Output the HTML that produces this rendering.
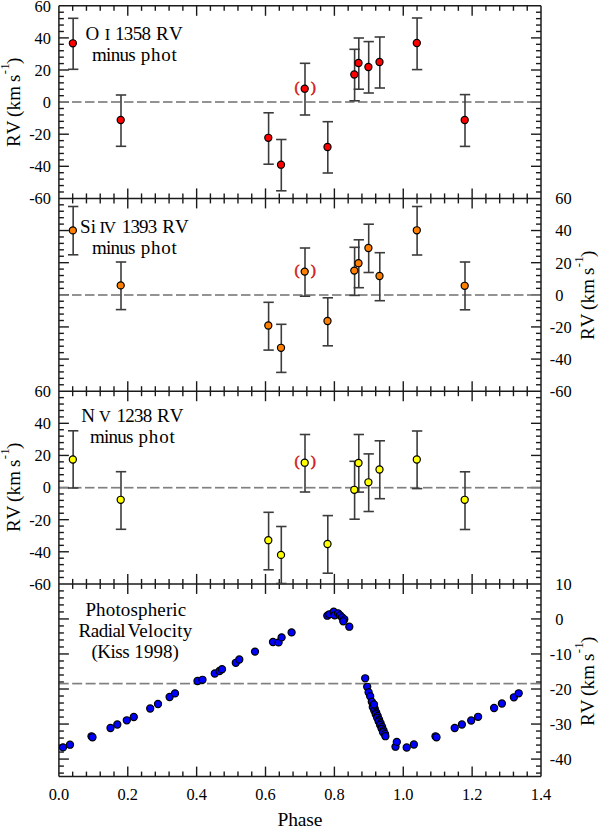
<!DOCTYPE html>
<html><head><meta charset="utf-8"><style>
html,body{margin:0;padding:0;background:#fff;overflow:hidden;width:600px;height:826px;}
svg{display:block;font-family:"Liberation Serif",serif;}
</style></head><body>
<svg width="600" height="826" viewBox="0 0 600 826">
<rect width="600" height="826" fill="#fff"/>
<line x1="72.67" y1="5.80" x2="72.67" y2="10.80" stroke="#1a1a1a" stroke-width="1.4" />
<line x1="72.67" y1="198.40" x2="72.67" y2="193.40" stroke="#1a1a1a" stroke-width="1.4" />
<line x1="86.45" y1="5.80" x2="86.45" y2="10.80" stroke="#1a1a1a" stroke-width="1.4" />
<line x1="86.45" y1="198.40" x2="86.45" y2="193.40" stroke="#1a1a1a" stroke-width="1.4" />
<line x1="100.22" y1="5.80" x2="100.22" y2="10.80" stroke="#1a1a1a" stroke-width="1.4" />
<line x1="100.22" y1="198.40" x2="100.22" y2="193.40" stroke="#1a1a1a" stroke-width="1.4" />
<line x1="114.00" y1="5.80" x2="114.00" y2="10.80" stroke="#1a1a1a" stroke-width="1.4" />
<line x1="114.00" y1="198.40" x2="114.00" y2="193.40" stroke="#1a1a1a" stroke-width="1.4" />
<line x1="127.77" y1="5.80" x2="127.77" y2="15.80" stroke="#1a1a1a" stroke-width="1.4" />
<line x1="127.77" y1="198.40" x2="127.77" y2="188.40" stroke="#1a1a1a" stroke-width="1.4" />
<line x1="141.55" y1="5.80" x2="141.55" y2="10.80" stroke="#1a1a1a" stroke-width="1.4" />
<line x1="141.55" y1="198.40" x2="141.55" y2="193.40" stroke="#1a1a1a" stroke-width="1.4" />
<line x1="155.32" y1="5.80" x2="155.32" y2="10.80" stroke="#1a1a1a" stroke-width="1.4" />
<line x1="155.32" y1="198.40" x2="155.32" y2="193.40" stroke="#1a1a1a" stroke-width="1.4" />
<line x1="169.09" y1="5.80" x2="169.09" y2="10.80" stroke="#1a1a1a" stroke-width="1.4" />
<line x1="169.09" y1="198.40" x2="169.09" y2="193.40" stroke="#1a1a1a" stroke-width="1.4" />
<line x1="182.87" y1="5.80" x2="182.87" y2="10.80" stroke="#1a1a1a" stroke-width="1.4" />
<line x1="182.87" y1="198.40" x2="182.87" y2="193.40" stroke="#1a1a1a" stroke-width="1.4" />
<line x1="196.64" y1="5.80" x2="196.64" y2="15.80" stroke="#1a1a1a" stroke-width="1.4" />
<line x1="196.64" y1="198.40" x2="196.64" y2="188.40" stroke="#1a1a1a" stroke-width="1.4" />
<line x1="210.42" y1="5.80" x2="210.42" y2="10.80" stroke="#1a1a1a" stroke-width="1.4" />
<line x1="210.42" y1="198.40" x2="210.42" y2="193.40" stroke="#1a1a1a" stroke-width="1.4" />
<line x1="224.19" y1="5.80" x2="224.19" y2="10.80" stroke="#1a1a1a" stroke-width="1.4" />
<line x1="224.19" y1="198.40" x2="224.19" y2="193.40" stroke="#1a1a1a" stroke-width="1.4" />
<line x1="237.97" y1="5.80" x2="237.97" y2="10.80" stroke="#1a1a1a" stroke-width="1.4" />
<line x1="237.97" y1="198.40" x2="237.97" y2="193.40" stroke="#1a1a1a" stroke-width="1.4" />
<line x1="251.74" y1="5.80" x2="251.74" y2="10.80" stroke="#1a1a1a" stroke-width="1.4" />
<line x1="251.74" y1="198.40" x2="251.74" y2="193.40" stroke="#1a1a1a" stroke-width="1.4" />
<line x1="265.51" y1="5.80" x2="265.51" y2="15.80" stroke="#1a1a1a" stroke-width="1.4" />
<line x1="265.51" y1="198.40" x2="265.51" y2="188.40" stroke="#1a1a1a" stroke-width="1.4" />
<line x1="279.29" y1="5.80" x2="279.29" y2="10.80" stroke="#1a1a1a" stroke-width="1.4" />
<line x1="279.29" y1="198.40" x2="279.29" y2="193.40" stroke="#1a1a1a" stroke-width="1.4" />
<line x1="293.06" y1="5.80" x2="293.06" y2="10.80" stroke="#1a1a1a" stroke-width="1.4" />
<line x1="293.06" y1="198.40" x2="293.06" y2="193.40" stroke="#1a1a1a" stroke-width="1.4" />
<line x1="306.84" y1="5.80" x2="306.84" y2="10.80" stroke="#1a1a1a" stroke-width="1.4" />
<line x1="306.84" y1="198.40" x2="306.84" y2="193.40" stroke="#1a1a1a" stroke-width="1.4" />
<line x1="320.61" y1="5.80" x2="320.61" y2="10.80" stroke="#1a1a1a" stroke-width="1.4" />
<line x1="320.61" y1="198.40" x2="320.61" y2="193.40" stroke="#1a1a1a" stroke-width="1.4" />
<line x1="334.39" y1="5.80" x2="334.39" y2="15.80" stroke="#1a1a1a" stroke-width="1.4" />
<line x1="334.39" y1="198.40" x2="334.39" y2="188.40" stroke="#1a1a1a" stroke-width="1.4" />
<line x1="348.16" y1="5.80" x2="348.16" y2="10.80" stroke="#1a1a1a" stroke-width="1.4" />
<line x1="348.16" y1="198.40" x2="348.16" y2="193.40" stroke="#1a1a1a" stroke-width="1.4" />
<line x1="361.93" y1="5.80" x2="361.93" y2="10.80" stroke="#1a1a1a" stroke-width="1.4" />
<line x1="361.93" y1="198.40" x2="361.93" y2="193.40" stroke="#1a1a1a" stroke-width="1.4" />
<line x1="375.71" y1="5.80" x2="375.71" y2="10.80" stroke="#1a1a1a" stroke-width="1.4" />
<line x1="375.71" y1="198.40" x2="375.71" y2="193.40" stroke="#1a1a1a" stroke-width="1.4" />
<line x1="389.48" y1="5.80" x2="389.48" y2="10.80" stroke="#1a1a1a" stroke-width="1.4" />
<line x1="389.48" y1="198.40" x2="389.48" y2="193.40" stroke="#1a1a1a" stroke-width="1.4" />
<line x1="403.26" y1="5.80" x2="403.26" y2="15.80" stroke="#1a1a1a" stroke-width="1.4" />
<line x1="403.26" y1="198.40" x2="403.26" y2="188.40" stroke="#1a1a1a" stroke-width="1.4" />
<line x1="417.03" y1="5.80" x2="417.03" y2="10.80" stroke="#1a1a1a" stroke-width="1.4" />
<line x1="417.03" y1="198.40" x2="417.03" y2="193.40" stroke="#1a1a1a" stroke-width="1.4" />
<line x1="430.81" y1="5.80" x2="430.81" y2="10.80" stroke="#1a1a1a" stroke-width="1.4" />
<line x1="430.81" y1="198.40" x2="430.81" y2="193.40" stroke="#1a1a1a" stroke-width="1.4" />
<line x1="444.58" y1="5.80" x2="444.58" y2="10.80" stroke="#1a1a1a" stroke-width="1.4" />
<line x1="444.58" y1="198.40" x2="444.58" y2="193.40" stroke="#1a1a1a" stroke-width="1.4" />
<line x1="458.35" y1="5.80" x2="458.35" y2="10.80" stroke="#1a1a1a" stroke-width="1.4" />
<line x1="458.35" y1="198.40" x2="458.35" y2="193.40" stroke="#1a1a1a" stroke-width="1.4" />
<line x1="472.13" y1="5.80" x2="472.13" y2="15.80" stroke="#1a1a1a" stroke-width="1.4" />
<line x1="472.13" y1="198.40" x2="472.13" y2="188.40" stroke="#1a1a1a" stroke-width="1.4" />
<line x1="485.90" y1="5.80" x2="485.90" y2="10.80" stroke="#1a1a1a" stroke-width="1.4" />
<line x1="485.90" y1="198.40" x2="485.90" y2="193.40" stroke="#1a1a1a" stroke-width="1.4" />
<line x1="499.68" y1="5.80" x2="499.68" y2="10.80" stroke="#1a1a1a" stroke-width="1.4" />
<line x1="499.68" y1="198.40" x2="499.68" y2="193.40" stroke="#1a1a1a" stroke-width="1.4" />
<line x1="513.45" y1="5.80" x2="513.45" y2="10.80" stroke="#1a1a1a" stroke-width="1.4" />
<line x1="513.45" y1="198.40" x2="513.45" y2="193.40" stroke="#1a1a1a" stroke-width="1.4" />
<line x1="527.23" y1="5.80" x2="527.23" y2="10.80" stroke="#1a1a1a" stroke-width="1.4" />
<line x1="527.23" y1="198.40" x2="527.23" y2="193.40" stroke="#1a1a1a" stroke-width="1.4" />
<line x1="58.90" y1="12.22" x2="63.90" y2="12.22" stroke="#1a1a1a" stroke-width="1.4" />
<line x1="541.00" y1="12.22" x2="536.00" y2="12.22" stroke="#1a1a1a" stroke-width="1.4" />
<line x1="58.90" y1="18.64" x2="63.90" y2="18.64" stroke="#1a1a1a" stroke-width="1.4" />
<line x1="541.00" y1="18.64" x2="536.00" y2="18.64" stroke="#1a1a1a" stroke-width="1.4" />
<line x1="58.90" y1="25.06" x2="63.90" y2="25.06" stroke="#1a1a1a" stroke-width="1.4" />
<line x1="541.00" y1="25.06" x2="536.00" y2="25.06" stroke="#1a1a1a" stroke-width="1.4" />
<line x1="58.90" y1="31.48" x2="63.90" y2="31.48" stroke="#1a1a1a" stroke-width="1.4" />
<line x1="541.00" y1="31.48" x2="536.00" y2="31.48" stroke="#1a1a1a" stroke-width="1.4" />
<line x1="58.90" y1="37.90" x2="68.90" y2="37.90" stroke="#1a1a1a" stroke-width="1.4" />
<line x1="541.00" y1="37.90" x2="531.00" y2="37.90" stroke="#1a1a1a" stroke-width="1.4" />
<line x1="58.90" y1="44.32" x2="63.90" y2="44.32" stroke="#1a1a1a" stroke-width="1.4" />
<line x1="541.00" y1="44.32" x2="536.00" y2="44.32" stroke="#1a1a1a" stroke-width="1.4" />
<line x1="58.90" y1="50.74" x2="63.90" y2="50.74" stroke="#1a1a1a" stroke-width="1.4" />
<line x1="541.00" y1="50.74" x2="536.00" y2="50.74" stroke="#1a1a1a" stroke-width="1.4" />
<line x1="58.90" y1="57.16" x2="63.90" y2="57.16" stroke="#1a1a1a" stroke-width="1.4" />
<line x1="541.00" y1="57.16" x2="536.00" y2="57.16" stroke="#1a1a1a" stroke-width="1.4" />
<line x1="58.90" y1="63.58" x2="63.90" y2="63.58" stroke="#1a1a1a" stroke-width="1.4" />
<line x1="541.00" y1="63.58" x2="536.00" y2="63.58" stroke="#1a1a1a" stroke-width="1.4" />
<line x1="58.90" y1="70.00" x2="68.90" y2="70.00" stroke="#1a1a1a" stroke-width="1.4" />
<line x1="541.00" y1="70.00" x2="531.00" y2="70.00" stroke="#1a1a1a" stroke-width="1.4" />
<line x1="58.90" y1="76.42" x2="63.90" y2="76.42" stroke="#1a1a1a" stroke-width="1.4" />
<line x1="541.00" y1="76.42" x2="536.00" y2="76.42" stroke="#1a1a1a" stroke-width="1.4" />
<line x1="58.90" y1="82.84" x2="63.90" y2="82.84" stroke="#1a1a1a" stroke-width="1.4" />
<line x1="541.00" y1="82.84" x2="536.00" y2="82.84" stroke="#1a1a1a" stroke-width="1.4" />
<line x1="58.90" y1="89.26" x2="63.90" y2="89.26" stroke="#1a1a1a" stroke-width="1.4" />
<line x1="541.00" y1="89.26" x2="536.00" y2="89.26" stroke="#1a1a1a" stroke-width="1.4" />
<line x1="58.90" y1="95.68" x2="63.90" y2="95.68" stroke="#1a1a1a" stroke-width="1.4" />
<line x1="541.00" y1="95.68" x2="536.00" y2="95.68" stroke="#1a1a1a" stroke-width="1.4" />
<line x1="58.90" y1="102.10" x2="68.90" y2="102.10" stroke="#1a1a1a" stroke-width="1.4" />
<line x1="541.00" y1="102.10" x2="531.00" y2="102.10" stroke="#1a1a1a" stroke-width="1.4" />
<line x1="58.90" y1="108.52" x2="63.90" y2="108.52" stroke="#1a1a1a" stroke-width="1.4" />
<line x1="541.00" y1="108.52" x2="536.00" y2="108.52" stroke="#1a1a1a" stroke-width="1.4" />
<line x1="58.90" y1="114.94" x2="63.90" y2="114.94" stroke="#1a1a1a" stroke-width="1.4" />
<line x1="541.00" y1="114.94" x2="536.00" y2="114.94" stroke="#1a1a1a" stroke-width="1.4" />
<line x1="58.90" y1="121.36" x2="63.90" y2="121.36" stroke="#1a1a1a" stroke-width="1.4" />
<line x1="541.00" y1="121.36" x2="536.00" y2="121.36" stroke="#1a1a1a" stroke-width="1.4" />
<line x1="58.90" y1="127.78" x2="63.90" y2="127.78" stroke="#1a1a1a" stroke-width="1.4" />
<line x1="541.00" y1="127.78" x2="536.00" y2="127.78" stroke="#1a1a1a" stroke-width="1.4" />
<line x1="58.90" y1="134.20" x2="68.90" y2="134.20" stroke="#1a1a1a" stroke-width="1.4" />
<line x1="541.00" y1="134.20" x2="531.00" y2="134.20" stroke="#1a1a1a" stroke-width="1.4" />
<line x1="58.90" y1="140.62" x2="63.90" y2="140.62" stroke="#1a1a1a" stroke-width="1.4" />
<line x1="541.00" y1="140.62" x2="536.00" y2="140.62" stroke="#1a1a1a" stroke-width="1.4" />
<line x1="58.90" y1="147.04" x2="63.90" y2="147.04" stroke="#1a1a1a" stroke-width="1.4" />
<line x1="541.00" y1="147.04" x2="536.00" y2="147.04" stroke="#1a1a1a" stroke-width="1.4" />
<line x1="58.90" y1="153.46" x2="63.90" y2="153.46" stroke="#1a1a1a" stroke-width="1.4" />
<line x1="541.00" y1="153.46" x2="536.00" y2="153.46" stroke="#1a1a1a" stroke-width="1.4" />
<line x1="58.90" y1="159.88" x2="63.90" y2="159.88" stroke="#1a1a1a" stroke-width="1.4" />
<line x1="541.00" y1="159.88" x2="536.00" y2="159.88" stroke="#1a1a1a" stroke-width="1.4" />
<line x1="58.90" y1="166.30" x2="68.90" y2="166.30" stroke="#1a1a1a" stroke-width="1.4" />
<line x1="541.00" y1="166.30" x2="531.00" y2="166.30" stroke="#1a1a1a" stroke-width="1.4" />
<line x1="58.90" y1="172.72" x2="63.90" y2="172.72" stroke="#1a1a1a" stroke-width="1.4" />
<line x1="541.00" y1="172.72" x2="536.00" y2="172.72" stroke="#1a1a1a" stroke-width="1.4" />
<line x1="58.90" y1="179.14" x2="63.90" y2="179.14" stroke="#1a1a1a" stroke-width="1.4" />
<line x1="541.00" y1="179.14" x2="536.00" y2="179.14" stroke="#1a1a1a" stroke-width="1.4" />
<line x1="58.90" y1="185.56" x2="63.90" y2="185.56" stroke="#1a1a1a" stroke-width="1.4" />
<line x1="541.00" y1="185.56" x2="536.00" y2="185.56" stroke="#1a1a1a" stroke-width="1.4" />
<line x1="58.90" y1="191.98" x2="63.90" y2="191.98" stroke="#1a1a1a" stroke-width="1.4" />
<line x1="541.00" y1="191.98" x2="536.00" y2="191.98" stroke="#1a1a1a" stroke-width="1.4" />
<line x1="72.67" y1="198.40" x2="72.67" y2="203.40" stroke="#1a1a1a" stroke-width="1.4" />
<line x1="72.67" y1="391.20" x2="72.67" y2="386.20" stroke="#1a1a1a" stroke-width="1.4" />
<line x1="86.45" y1="198.40" x2="86.45" y2="203.40" stroke="#1a1a1a" stroke-width="1.4" />
<line x1="86.45" y1="391.20" x2="86.45" y2="386.20" stroke="#1a1a1a" stroke-width="1.4" />
<line x1="100.22" y1="198.40" x2="100.22" y2="203.40" stroke="#1a1a1a" stroke-width="1.4" />
<line x1="100.22" y1="391.20" x2="100.22" y2="386.20" stroke="#1a1a1a" stroke-width="1.4" />
<line x1="114.00" y1="198.40" x2="114.00" y2="203.40" stroke="#1a1a1a" stroke-width="1.4" />
<line x1="114.00" y1="391.20" x2="114.00" y2="386.20" stroke="#1a1a1a" stroke-width="1.4" />
<line x1="127.77" y1="198.40" x2="127.77" y2="208.40" stroke="#1a1a1a" stroke-width="1.4" />
<line x1="127.77" y1="391.20" x2="127.77" y2="381.20" stroke="#1a1a1a" stroke-width="1.4" />
<line x1="141.55" y1="198.40" x2="141.55" y2="203.40" stroke="#1a1a1a" stroke-width="1.4" />
<line x1="141.55" y1="391.20" x2="141.55" y2="386.20" stroke="#1a1a1a" stroke-width="1.4" />
<line x1="155.32" y1="198.40" x2="155.32" y2="203.40" stroke="#1a1a1a" stroke-width="1.4" />
<line x1="155.32" y1="391.20" x2="155.32" y2="386.20" stroke="#1a1a1a" stroke-width="1.4" />
<line x1="169.09" y1="198.40" x2="169.09" y2="203.40" stroke="#1a1a1a" stroke-width="1.4" />
<line x1="169.09" y1="391.20" x2="169.09" y2="386.20" stroke="#1a1a1a" stroke-width="1.4" />
<line x1="182.87" y1="198.40" x2="182.87" y2="203.40" stroke="#1a1a1a" stroke-width="1.4" />
<line x1="182.87" y1="391.20" x2="182.87" y2="386.20" stroke="#1a1a1a" stroke-width="1.4" />
<line x1="196.64" y1="198.40" x2="196.64" y2="208.40" stroke="#1a1a1a" stroke-width="1.4" />
<line x1="196.64" y1="391.20" x2="196.64" y2="381.20" stroke="#1a1a1a" stroke-width="1.4" />
<line x1="210.42" y1="198.40" x2="210.42" y2="203.40" stroke="#1a1a1a" stroke-width="1.4" />
<line x1="210.42" y1="391.20" x2="210.42" y2="386.20" stroke="#1a1a1a" stroke-width="1.4" />
<line x1="224.19" y1="198.40" x2="224.19" y2="203.40" stroke="#1a1a1a" stroke-width="1.4" />
<line x1="224.19" y1="391.20" x2="224.19" y2="386.20" stroke="#1a1a1a" stroke-width="1.4" />
<line x1="237.97" y1="198.40" x2="237.97" y2="203.40" stroke="#1a1a1a" stroke-width="1.4" />
<line x1="237.97" y1="391.20" x2="237.97" y2="386.20" stroke="#1a1a1a" stroke-width="1.4" />
<line x1="251.74" y1="198.40" x2="251.74" y2="203.40" stroke="#1a1a1a" stroke-width="1.4" />
<line x1="251.74" y1="391.20" x2="251.74" y2="386.20" stroke="#1a1a1a" stroke-width="1.4" />
<line x1="265.51" y1="198.40" x2="265.51" y2="208.40" stroke="#1a1a1a" stroke-width="1.4" />
<line x1="265.51" y1="391.20" x2="265.51" y2="381.20" stroke="#1a1a1a" stroke-width="1.4" />
<line x1="279.29" y1="198.40" x2="279.29" y2="203.40" stroke="#1a1a1a" stroke-width="1.4" />
<line x1="279.29" y1="391.20" x2="279.29" y2="386.20" stroke="#1a1a1a" stroke-width="1.4" />
<line x1="293.06" y1="198.40" x2="293.06" y2="203.40" stroke="#1a1a1a" stroke-width="1.4" />
<line x1="293.06" y1="391.20" x2="293.06" y2="386.20" stroke="#1a1a1a" stroke-width="1.4" />
<line x1="306.84" y1="198.40" x2="306.84" y2="203.40" stroke="#1a1a1a" stroke-width="1.4" />
<line x1="306.84" y1="391.20" x2="306.84" y2="386.20" stroke="#1a1a1a" stroke-width="1.4" />
<line x1="320.61" y1="198.40" x2="320.61" y2="203.40" stroke="#1a1a1a" stroke-width="1.4" />
<line x1="320.61" y1="391.20" x2="320.61" y2="386.20" stroke="#1a1a1a" stroke-width="1.4" />
<line x1="334.39" y1="198.40" x2="334.39" y2="208.40" stroke="#1a1a1a" stroke-width="1.4" />
<line x1="334.39" y1="391.20" x2="334.39" y2="381.20" stroke="#1a1a1a" stroke-width="1.4" />
<line x1="348.16" y1="198.40" x2="348.16" y2="203.40" stroke="#1a1a1a" stroke-width="1.4" />
<line x1="348.16" y1="391.20" x2="348.16" y2="386.20" stroke="#1a1a1a" stroke-width="1.4" />
<line x1="361.93" y1="198.40" x2="361.93" y2="203.40" stroke="#1a1a1a" stroke-width="1.4" />
<line x1="361.93" y1="391.20" x2="361.93" y2="386.20" stroke="#1a1a1a" stroke-width="1.4" />
<line x1="375.71" y1="198.40" x2="375.71" y2="203.40" stroke="#1a1a1a" stroke-width="1.4" />
<line x1="375.71" y1="391.20" x2="375.71" y2="386.20" stroke="#1a1a1a" stroke-width="1.4" />
<line x1="389.48" y1="198.40" x2="389.48" y2="203.40" stroke="#1a1a1a" stroke-width="1.4" />
<line x1="389.48" y1="391.20" x2="389.48" y2="386.20" stroke="#1a1a1a" stroke-width="1.4" />
<line x1="403.26" y1="198.40" x2="403.26" y2="208.40" stroke="#1a1a1a" stroke-width="1.4" />
<line x1="403.26" y1="391.20" x2="403.26" y2="381.20" stroke="#1a1a1a" stroke-width="1.4" />
<line x1="417.03" y1="198.40" x2="417.03" y2="203.40" stroke="#1a1a1a" stroke-width="1.4" />
<line x1="417.03" y1="391.20" x2="417.03" y2="386.20" stroke="#1a1a1a" stroke-width="1.4" />
<line x1="430.81" y1="198.40" x2="430.81" y2="203.40" stroke="#1a1a1a" stroke-width="1.4" />
<line x1="430.81" y1="391.20" x2="430.81" y2="386.20" stroke="#1a1a1a" stroke-width="1.4" />
<line x1="444.58" y1="198.40" x2="444.58" y2="203.40" stroke="#1a1a1a" stroke-width="1.4" />
<line x1="444.58" y1="391.20" x2="444.58" y2="386.20" stroke="#1a1a1a" stroke-width="1.4" />
<line x1="458.35" y1="198.40" x2="458.35" y2="203.40" stroke="#1a1a1a" stroke-width="1.4" />
<line x1="458.35" y1="391.20" x2="458.35" y2="386.20" stroke="#1a1a1a" stroke-width="1.4" />
<line x1="472.13" y1="198.40" x2="472.13" y2="208.40" stroke="#1a1a1a" stroke-width="1.4" />
<line x1="472.13" y1="391.20" x2="472.13" y2="381.20" stroke="#1a1a1a" stroke-width="1.4" />
<line x1="485.90" y1="198.40" x2="485.90" y2="203.40" stroke="#1a1a1a" stroke-width="1.4" />
<line x1="485.90" y1="391.20" x2="485.90" y2="386.20" stroke="#1a1a1a" stroke-width="1.4" />
<line x1="499.68" y1="198.40" x2="499.68" y2="203.40" stroke="#1a1a1a" stroke-width="1.4" />
<line x1="499.68" y1="391.20" x2="499.68" y2="386.20" stroke="#1a1a1a" stroke-width="1.4" />
<line x1="513.45" y1="198.40" x2="513.45" y2="203.40" stroke="#1a1a1a" stroke-width="1.4" />
<line x1="513.45" y1="391.20" x2="513.45" y2="386.20" stroke="#1a1a1a" stroke-width="1.4" />
<line x1="527.23" y1="198.40" x2="527.23" y2="203.40" stroke="#1a1a1a" stroke-width="1.4" />
<line x1="527.23" y1="391.20" x2="527.23" y2="386.20" stroke="#1a1a1a" stroke-width="1.4" />
<line x1="58.90" y1="204.83" x2="63.90" y2="204.83" stroke="#1a1a1a" stroke-width="1.4" />
<line x1="541.00" y1="204.83" x2="536.00" y2="204.83" stroke="#1a1a1a" stroke-width="1.4" />
<line x1="58.90" y1="211.25" x2="63.90" y2="211.25" stroke="#1a1a1a" stroke-width="1.4" />
<line x1="541.00" y1="211.25" x2="536.00" y2="211.25" stroke="#1a1a1a" stroke-width="1.4" />
<line x1="58.90" y1="217.68" x2="63.90" y2="217.68" stroke="#1a1a1a" stroke-width="1.4" />
<line x1="541.00" y1="217.68" x2="536.00" y2="217.68" stroke="#1a1a1a" stroke-width="1.4" />
<line x1="58.90" y1="224.11" x2="63.90" y2="224.11" stroke="#1a1a1a" stroke-width="1.4" />
<line x1="541.00" y1="224.11" x2="536.00" y2="224.11" stroke="#1a1a1a" stroke-width="1.4" />
<line x1="58.90" y1="230.53" x2="68.90" y2="230.53" stroke="#1a1a1a" stroke-width="1.4" />
<line x1="541.00" y1="230.53" x2="531.00" y2="230.53" stroke="#1a1a1a" stroke-width="1.4" />
<line x1="58.90" y1="236.96" x2="63.90" y2="236.96" stroke="#1a1a1a" stroke-width="1.4" />
<line x1="541.00" y1="236.96" x2="536.00" y2="236.96" stroke="#1a1a1a" stroke-width="1.4" />
<line x1="58.90" y1="243.39" x2="63.90" y2="243.39" stroke="#1a1a1a" stroke-width="1.4" />
<line x1="541.00" y1="243.39" x2="536.00" y2="243.39" stroke="#1a1a1a" stroke-width="1.4" />
<line x1="58.90" y1="249.81" x2="63.90" y2="249.81" stroke="#1a1a1a" stroke-width="1.4" />
<line x1="541.00" y1="249.81" x2="536.00" y2="249.81" stroke="#1a1a1a" stroke-width="1.4" />
<line x1="58.90" y1="256.24" x2="63.90" y2="256.24" stroke="#1a1a1a" stroke-width="1.4" />
<line x1="541.00" y1="256.24" x2="536.00" y2="256.24" stroke="#1a1a1a" stroke-width="1.4" />
<line x1="58.90" y1="262.67" x2="68.90" y2="262.67" stroke="#1a1a1a" stroke-width="1.4" />
<line x1="541.00" y1="262.67" x2="531.00" y2="262.67" stroke="#1a1a1a" stroke-width="1.4" />
<line x1="58.90" y1="269.09" x2="63.90" y2="269.09" stroke="#1a1a1a" stroke-width="1.4" />
<line x1="541.00" y1="269.09" x2="536.00" y2="269.09" stroke="#1a1a1a" stroke-width="1.4" />
<line x1="58.90" y1="275.52" x2="63.90" y2="275.52" stroke="#1a1a1a" stroke-width="1.4" />
<line x1="541.00" y1="275.52" x2="536.00" y2="275.52" stroke="#1a1a1a" stroke-width="1.4" />
<line x1="58.90" y1="281.95" x2="63.90" y2="281.95" stroke="#1a1a1a" stroke-width="1.4" />
<line x1="541.00" y1="281.95" x2="536.00" y2="281.95" stroke="#1a1a1a" stroke-width="1.4" />
<line x1="58.90" y1="288.37" x2="63.90" y2="288.37" stroke="#1a1a1a" stroke-width="1.4" />
<line x1="541.00" y1="288.37" x2="536.00" y2="288.37" stroke="#1a1a1a" stroke-width="1.4" />
<line x1="58.90" y1="294.80" x2="68.90" y2="294.80" stroke="#1a1a1a" stroke-width="1.4" />
<line x1="541.00" y1="294.80" x2="531.00" y2="294.80" stroke="#1a1a1a" stroke-width="1.4" />
<line x1="58.90" y1="301.23" x2="63.90" y2="301.23" stroke="#1a1a1a" stroke-width="1.4" />
<line x1="541.00" y1="301.23" x2="536.00" y2="301.23" stroke="#1a1a1a" stroke-width="1.4" />
<line x1="58.90" y1="307.65" x2="63.90" y2="307.65" stroke="#1a1a1a" stroke-width="1.4" />
<line x1="541.00" y1="307.65" x2="536.00" y2="307.65" stroke="#1a1a1a" stroke-width="1.4" />
<line x1="58.90" y1="314.08" x2="63.90" y2="314.08" stroke="#1a1a1a" stroke-width="1.4" />
<line x1="541.00" y1="314.08" x2="536.00" y2="314.08" stroke="#1a1a1a" stroke-width="1.4" />
<line x1="58.90" y1="320.51" x2="63.90" y2="320.51" stroke="#1a1a1a" stroke-width="1.4" />
<line x1="541.00" y1="320.51" x2="536.00" y2="320.51" stroke="#1a1a1a" stroke-width="1.4" />
<line x1="58.90" y1="326.93" x2="68.90" y2="326.93" stroke="#1a1a1a" stroke-width="1.4" />
<line x1="541.00" y1="326.93" x2="531.00" y2="326.93" stroke="#1a1a1a" stroke-width="1.4" />
<line x1="58.90" y1="333.36" x2="63.90" y2="333.36" stroke="#1a1a1a" stroke-width="1.4" />
<line x1="541.00" y1="333.36" x2="536.00" y2="333.36" stroke="#1a1a1a" stroke-width="1.4" />
<line x1="58.90" y1="339.79" x2="63.90" y2="339.79" stroke="#1a1a1a" stroke-width="1.4" />
<line x1="541.00" y1="339.79" x2="536.00" y2="339.79" stroke="#1a1a1a" stroke-width="1.4" />
<line x1="58.90" y1="346.21" x2="63.90" y2="346.21" stroke="#1a1a1a" stroke-width="1.4" />
<line x1="541.00" y1="346.21" x2="536.00" y2="346.21" stroke="#1a1a1a" stroke-width="1.4" />
<line x1="58.90" y1="352.64" x2="63.90" y2="352.64" stroke="#1a1a1a" stroke-width="1.4" />
<line x1="541.00" y1="352.64" x2="536.00" y2="352.64" stroke="#1a1a1a" stroke-width="1.4" />
<line x1="58.90" y1="359.07" x2="68.90" y2="359.07" stroke="#1a1a1a" stroke-width="1.4" />
<line x1="541.00" y1="359.07" x2="531.00" y2="359.07" stroke="#1a1a1a" stroke-width="1.4" />
<line x1="58.90" y1="365.49" x2="63.90" y2="365.49" stroke="#1a1a1a" stroke-width="1.4" />
<line x1="541.00" y1="365.49" x2="536.00" y2="365.49" stroke="#1a1a1a" stroke-width="1.4" />
<line x1="58.90" y1="371.92" x2="63.90" y2="371.92" stroke="#1a1a1a" stroke-width="1.4" />
<line x1="541.00" y1="371.92" x2="536.00" y2="371.92" stroke="#1a1a1a" stroke-width="1.4" />
<line x1="58.90" y1="378.35" x2="63.90" y2="378.35" stroke="#1a1a1a" stroke-width="1.4" />
<line x1="541.00" y1="378.35" x2="536.00" y2="378.35" stroke="#1a1a1a" stroke-width="1.4" />
<line x1="58.90" y1="384.77" x2="63.90" y2="384.77" stroke="#1a1a1a" stroke-width="1.4" />
<line x1="541.00" y1="384.77" x2="536.00" y2="384.77" stroke="#1a1a1a" stroke-width="1.4" />
<line x1="72.67" y1="391.20" x2="72.67" y2="396.20" stroke="#1a1a1a" stroke-width="1.4" />
<line x1="72.67" y1="583.90" x2="72.67" y2="578.90" stroke="#1a1a1a" stroke-width="1.4" />
<line x1="86.45" y1="391.20" x2="86.45" y2="396.20" stroke="#1a1a1a" stroke-width="1.4" />
<line x1="86.45" y1="583.90" x2="86.45" y2="578.90" stroke="#1a1a1a" stroke-width="1.4" />
<line x1="100.22" y1="391.20" x2="100.22" y2="396.20" stroke="#1a1a1a" stroke-width="1.4" />
<line x1="100.22" y1="583.90" x2="100.22" y2="578.90" stroke="#1a1a1a" stroke-width="1.4" />
<line x1="114.00" y1="391.20" x2="114.00" y2="396.20" stroke="#1a1a1a" stroke-width="1.4" />
<line x1="114.00" y1="583.90" x2="114.00" y2="578.90" stroke="#1a1a1a" stroke-width="1.4" />
<line x1="127.77" y1="391.20" x2="127.77" y2="401.20" stroke="#1a1a1a" stroke-width="1.4" />
<line x1="127.77" y1="583.90" x2="127.77" y2="573.90" stroke="#1a1a1a" stroke-width="1.4" />
<line x1="141.55" y1="391.20" x2="141.55" y2="396.20" stroke="#1a1a1a" stroke-width="1.4" />
<line x1="141.55" y1="583.90" x2="141.55" y2="578.90" stroke="#1a1a1a" stroke-width="1.4" />
<line x1="155.32" y1="391.20" x2="155.32" y2="396.20" stroke="#1a1a1a" stroke-width="1.4" />
<line x1="155.32" y1="583.90" x2="155.32" y2="578.90" stroke="#1a1a1a" stroke-width="1.4" />
<line x1="169.09" y1="391.20" x2="169.09" y2="396.20" stroke="#1a1a1a" stroke-width="1.4" />
<line x1="169.09" y1="583.90" x2="169.09" y2="578.90" stroke="#1a1a1a" stroke-width="1.4" />
<line x1="182.87" y1="391.20" x2="182.87" y2="396.20" stroke="#1a1a1a" stroke-width="1.4" />
<line x1="182.87" y1="583.90" x2="182.87" y2="578.90" stroke="#1a1a1a" stroke-width="1.4" />
<line x1="196.64" y1="391.20" x2="196.64" y2="401.20" stroke="#1a1a1a" stroke-width="1.4" />
<line x1="196.64" y1="583.90" x2="196.64" y2="573.90" stroke="#1a1a1a" stroke-width="1.4" />
<line x1="210.42" y1="391.20" x2="210.42" y2="396.20" stroke="#1a1a1a" stroke-width="1.4" />
<line x1="210.42" y1="583.90" x2="210.42" y2="578.90" stroke="#1a1a1a" stroke-width="1.4" />
<line x1="224.19" y1="391.20" x2="224.19" y2="396.20" stroke="#1a1a1a" stroke-width="1.4" />
<line x1="224.19" y1="583.90" x2="224.19" y2="578.90" stroke="#1a1a1a" stroke-width="1.4" />
<line x1="237.97" y1="391.20" x2="237.97" y2="396.20" stroke="#1a1a1a" stroke-width="1.4" />
<line x1="237.97" y1="583.90" x2="237.97" y2="578.90" stroke="#1a1a1a" stroke-width="1.4" />
<line x1="251.74" y1="391.20" x2="251.74" y2="396.20" stroke="#1a1a1a" stroke-width="1.4" />
<line x1="251.74" y1="583.90" x2="251.74" y2="578.90" stroke="#1a1a1a" stroke-width="1.4" />
<line x1="265.51" y1="391.20" x2="265.51" y2="401.20" stroke="#1a1a1a" stroke-width="1.4" />
<line x1="265.51" y1="583.90" x2="265.51" y2="573.90" stroke="#1a1a1a" stroke-width="1.4" />
<line x1="279.29" y1="391.20" x2="279.29" y2="396.20" stroke="#1a1a1a" stroke-width="1.4" />
<line x1="279.29" y1="583.90" x2="279.29" y2="578.90" stroke="#1a1a1a" stroke-width="1.4" />
<line x1="293.06" y1="391.20" x2="293.06" y2="396.20" stroke="#1a1a1a" stroke-width="1.4" />
<line x1="293.06" y1="583.90" x2="293.06" y2="578.90" stroke="#1a1a1a" stroke-width="1.4" />
<line x1="306.84" y1="391.20" x2="306.84" y2="396.20" stroke="#1a1a1a" stroke-width="1.4" />
<line x1="306.84" y1="583.90" x2="306.84" y2="578.90" stroke="#1a1a1a" stroke-width="1.4" />
<line x1="320.61" y1="391.20" x2="320.61" y2="396.20" stroke="#1a1a1a" stroke-width="1.4" />
<line x1="320.61" y1="583.90" x2="320.61" y2="578.90" stroke="#1a1a1a" stroke-width="1.4" />
<line x1="334.39" y1="391.20" x2="334.39" y2="401.20" stroke="#1a1a1a" stroke-width="1.4" />
<line x1="334.39" y1="583.90" x2="334.39" y2="573.90" stroke="#1a1a1a" stroke-width="1.4" />
<line x1="348.16" y1="391.20" x2="348.16" y2="396.20" stroke="#1a1a1a" stroke-width="1.4" />
<line x1="348.16" y1="583.90" x2="348.16" y2="578.90" stroke="#1a1a1a" stroke-width="1.4" />
<line x1="361.93" y1="391.20" x2="361.93" y2="396.20" stroke="#1a1a1a" stroke-width="1.4" />
<line x1="361.93" y1="583.90" x2="361.93" y2="578.90" stroke="#1a1a1a" stroke-width="1.4" />
<line x1="375.71" y1="391.20" x2="375.71" y2="396.20" stroke="#1a1a1a" stroke-width="1.4" />
<line x1="375.71" y1="583.90" x2="375.71" y2="578.90" stroke="#1a1a1a" stroke-width="1.4" />
<line x1="389.48" y1="391.20" x2="389.48" y2="396.20" stroke="#1a1a1a" stroke-width="1.4" />
<line x1="389.48" y1="583.90" x2="389.48" y2="578.90" stroke="#1a1a1a" stroke-width="1.4" />
<line x1="403.26" y1="391.20" x2="403.26" y2="401.20" stroke="#1a1a1a" stroke-width="1.4" />
<line x1="403.26" y1="583.90" x2="403.26" y2="573.90" stroke="#1a1a1a" stroke-width="1.4" />
<line x1="417.03" y1="391.20" x2="417.03" y2="396.20" stroke="#1a1a1a" stroke-width="1.4" />
<line x1="417.03" y1="583.90" x2="417.03" y2="578.90" stroke="#1a1a1a" stroke-width="1.4" />
<line x1="430.81" y1="391.20" x2="430.81" y2="396.20" stroke="#1a1a1a" stroke-width="1.4" />
<line x1="430.81" y1="583.90" x2="430.81" y2="578.90" stroke="#1a1a1a" stroke-width="1.4" />
<line x1="444.58" y1="391.20" x2="444.58" y2="396.20" stroke="#1a1a1a" stroke-width="1.4" />
<line x1="444.58" y1="583.90" x2="444.58" y2="578.90" stroke="#1a1a1a" stroke-width="1.4" />
<line x1="458.35" y1="391.20" x2="458.35" y2="396.20" stroke="#1a1a1a" stroke-width="1.4" />
<line x1="458.35" y1="583.90" x2="458.35" y2="578.90" stroke="#1a1a1a" stroke-width="1.4" />
<line x1="472.13" y1="391.20" x2="472.13" y2="401.20" stroke="#1a1a1a" stroke-width="1.4" />
<line x1="472.13" y1="583.90" x2="472.13" y2="573.90" stroke="#1a1a1a" stroke-width="1.4" />
<line x1="485.90" y1="391.20" x2="485.90" y2="396.20" stroke="#1a1a1a" stroke-width="1.4" />
<line x1="485.90" y1="583.90" x2="485.90" y2="578.90" stroke="#1a1a1a" stroke-width="1.4" />
<line x1="499.68" y1="391.20" x2="499.68" y2="396.20" stroke="#1a1a1a" stroke-width="1.4" />
<line x1="499.68" y1="583.90" x2="499.68" y2="578.90" stroke="#1a1a1a" stroke-width="1.4" />
<line x1="513.45" y1="391.20" x2="513.45" y2="396.20" stroke="#1a1a1a" stroke-width="1.4" />
<line x1="513.45" y1="583.90" x2="513.45" y2="578.90" stroke="#1a1a1a" stroke-width="1.4" />
<line x1="527.23" y1="391.20" x2="527.23" y2="396.20" stroke="#1a1a1a" stroke-width="1.4" />
<line x1="527.23" y1="583.90" x2="527.23" y2="578.90" stroke="#1a1a1a" stroke-width="1.4" />
<line x1="58.90" y1="397.62" x2="63.90" y2="397.62" stroke="#1a1a1a" stroke-width="1.4" />
<line x1="541.00" y1="397.62" x2="536.00" y2="397.62" stroke="#1a1a1a" stroke-width="1.4" />
<line x1="58.90" y1="404.05" x2="63.90" y2="404.05" stroke="#1a1a1a" stroke-width="1.4" />
<line x1="541.00" y1="404.05" x2="536.00" y2="404.05" stroke="#1a1a1a" stroke-width="1.4" />
<line x1="58.90" y1="410.47" x2="63.90" y2="410.47" stroke="#1a1a1a" stroke-width="1.4" />
<line x1="541.00" y1="410.47" x2="536.00" y2="410.47" stroke="#1a1a1a" stroke-width="1.4" />
<line x1="58.90" y1="416.89" x2="63.90" y2="416.89" stroke="#1a1a1a" stroke-width="1.4" />
<line x1="541.00" y1="416.89" x2="536.00" y2="416.89" stroke="#1a1a1a" stroke-width="1.4" />
<line x1="58.90" y1="423.32" x2="68.90" y2="423.32" stroke="#1a1a1a" stroke-width="1.4" />
<line x1="541.00" y1="423.32" x2="531.00" y2="423.32" stroke="#1a1a1a" stroke-width="1.4" />
<line x1="58.90" y1="429.74" x2="63.90" y2="429.74" stroke="#1a1a1a" stroke-width="1.4" />
<line x1="541.00" y1="429.74" x2="536.00" y2="429.74" stroke="#1a1a1a" stroke-width="1.4" />
<line x1="58.90" y1="436.16" x2="63.90" y2="436.16" stroke="#1a1a1a" stroke-width="1.4" />
<line x1="541.00" y1="436.16" x2="536.00" y2="436.16" stroke="#1a1a1a" stroke-width="1.4" />
<line x1="58.90" y1="442.59" x2="63.90" y2="442.59" stroke="#1a1a1a" stroke-width="1.4" />
<line x1="541.00" y1="442.59" x2="536.00" y2="442.59" stroke="#1a1a1a" stroke-width="1.4" />
<line x1="58.90" y1="449.01" x2="63.90" y2="449.01" stroke="#1a1a1a" stroke-width="1.4" />
<line x1="541.00" y1="449.01" x2="536.00" y2="449.01" stroke="#1a1a1a" stroke-width="1.4" />
<line x1="58.90" y1="455.43" x2="68.90" y2="455.43" stroke="#1a1a1a" stroke-width="1.4" />
<line x1="541.00" y1="455.43" x2="531.00" y2="455.43" stroke="#1a1a1a" stroke-width="1.4" />
<line x1="58.90" y1="461.86" x2="63.90" y2="461.86" stroke="#1a1a1a" stroke-width="1.4" />
<line x1="541.00" y1="461.86" x2="536.00" y2="461.86" stroke="#1a1a1a" stroke-width="1.4" />
<line x1="58.90" y1="468.28" x2="63.90" y2="468.28" stroke="#1a1a1a" stroke-width="1.4" />
<line x1="541.00" y1="468.28" x2="536.00" y2="468.28" stroke="#1a1a1a" stroke-width="1.4" />
<line x1="58.90" y1="474.70" x2="63.90" y2="474.70" stroke="#1a1a1a" stroke-width="1.4" />
<line x1="541.00" y1="474.70" x2="536.00" y2="474.70" stroke="#1a1a1a" stroke-width="1.4" />
<line x1="58.90" y1="481.13" x2="63.90" y2="481.13" stroke="#1a1a1a" stroke-width="1.4" />
<line x1="541.00" y1="481.13" x2="536.00" y2="481.13" stroke="#1a1a1a" stroke-width="1.4" />
<line x1="58.90" y1="487.55" x2="68.90" y2="487.55" stroke="#1a1a1a" stroke-width="1.4" />
<line x1="541.00" y1="487.55" x2="531.00" y2="487.55" stroke="#1a1a1a" stroke-width="1.4" />
<line x1="58.90" y1="493.97" x2="63.90" y2="493.97" stroke="#1a1a1a" stroke-width="1.4" />
<line x1="541.00" y1="493.97" x2="536.00" y2="493.97" stroke="#1a1a1a" stroke-width="1.4" />
<line x1="58.90" y1="500.40" x2="63.90" y2="500.40" stroke="#1a1a1a" stroke-width="1.4" />
<line x1="541.00" y1="500.40" x2="536.00" y2="500.40" stroke="#1a1a1a" stroke-width="1.4" />
<line x1="58.90" y1="506.82" x2="63.90" y2="506.82" stroke="#1a1a1a" stroke-width="1.4" />
<line x1="541.00" y1="506.82" x2="536.00" y2="506.82" stroke="#1a1a1a" stroke-width="1.4" />
<line x1="58.90" y1="513.24" x2="63.90" y2="513.24" stroke="#1a1a1a" stroke-width="1.4" />
<line x1="541.00" y1="513.24" x2="536.00" y2="513.24" stroke="#1a1a1a" stroke-width="1.4" />
<line x1="58.90" y1="519.67" x2="68.90" y2="519.67" stroke="#1a1a1a" stroke-width="1.4" />
<line x1="541.00" y1="519.67" x2="531.00" y2="519.67" stroke="#1a1a1a" stroke-width="1.4" />
<line x1="58.90" y1="526.09" x2="63.90" y2="526.09" stroke="#1a1a1a" stroke-width="1.4" />
<line x1="541.00" y1="526.09" x2="536.00" y2="526.09" stroke="#1a1a1a" stroke-width="1.4" />
<line x1="58.90" y1="532.51" x2="63.90" y2="532.51" stroke="#1a1a1a" stroke-width="1.4" />
<line x1="541.00" y1="532.51" x2="536.00" y2="532.51" stroke="#1a1a1a" stroke-width="1.4" />
<line x1="58.90" y1="538.94" x2="63.90" y2="538.94" stroke="#1a1a1a" stroke-width="1.4" />
<line x1="541.00" y1="538.94" x2="536.00" y2="538.94" stroke="#1a1a1a" stroke-width="1.4" />
<line x1="58.90" y1="545.36" x2="63.90" y2="545.36" stroke="#1a1a1a" stroke-width="1.4" />
<line x1="541.00" y1="545.36" x2="536.00" y2="545.36" stroke="#1a1a1a" stroke-width="1.4" />
<line x1="58.90" y1="551.78" x2="68.90" y2="551.78" stroke="#1a1a1a" stroke-width="1.4" />
<line x1="541.00" y1="551.78" x2="531.00" y2="551.78" stroke="#1a1a1a" stroke-width="1.4" />
<line x1="58.90" y1="558.21" x2="63.90" y2="558.21" stroke="#1a1a1a" stroke-width="1.4" />
<line x1="541.00" y1="558.21" x2="536.00" y2="558.21" stroke="#1a1a1a" stroke-width="1.4" />
<line x1="58.90" y1="564.63" x2="63.90" y2="564.63" stroke="#1a1a1a" stroke-width="1.4" />
<line x1="541.00" y1="564.63" x2="536.00" y2="564.63" stroke="#1a1a1a" stroke-width="1.4" />
<line x1="58.90" y1="571.05" x2="63.90" y2="571.05" stroke="#1a1a1a" stroke-width="1.4" />
<line x1="541.00" y1="571.05" x2="536.00" y2="571.05" stroke="#1a1a1a" stroke-width="1.4" />
<line x1="58.90" y1="577.48" x2="63.90" y2="577.48" stroke="#1a1a1a" stroke-width="1.4" />
<line x1="541.00" y1="577.48" x2="536.00" y2="577.48" stroke="#1a1a1a" stroke-width="1.4" />
<line x1="72.67" y1="583.90" x2="72.67" y2="588.90" stroke="#1a1a1a" stroke-width="1.4" />
<line x1="72.67" y1="776.60" x2="72.67" y2="771.60" stroke="#1a1a1a" stroke-width="1.4" />
<line x1="86.45" y1="583.90" x2="86.45" y2="588.90" stroke="#1a1a1a" stroke-width="1.4" />
<line x1="86.45" y1="776.60" x2="86.45" y2="771.60" stroke="#1a1a1a" stroke-width="1.4" />
<line x1="100.22" y1="583.90" x2="100.22" y2="588.90" stroke="#1a1a1a" stroke-width="1.4" />
<line x1="100.22" y1="776.60" x2="100.22" y2="771.60" stroke="#1a1a1a" stroke-width="1.4" />
<line x1="114.00" y1="583.90" x2="114.00" y2="588.90" stroke="#1a1a1a" stroke-width="1.4" />
<line x1="114.00" y1="776.60" x2="114.00" y2="771.60" stroke="#1a1a1a" stroke-width="1.4" />
<line x1="127.77" y1="583.90" x2="127.77" y2="593.90" stroke="#1a1a1a" stroke-width="1.4" />
<line x1="127.77" y1="776.60" x2="127.77" y2="766.60" stroke="#1a1a1a" stroke-width="1.4" />
<line x1="141.55" y1="583.90" x2="141.55" y2="588.90" stroke="#1a1a1a" stroke-width="1.4" />
<line x1="141.55" y1="776.60" x2="141.55" y2="771.60" stroke="#1a1a1a" stroke-width="1.4" />
<line x1="155.32" y1="583.90" x2="155.32" y2="588.90" stroke="#1a1a1a" stroke-width="1.4" />
<line x1="155.32" y1="776.60" x2="155.32" y2="771.60" stroke="#1a1a1a" stroke-width="1.4" />
<line x1="169.09" y1="583.90" x2="169.09" y2="588.90" stroke="#1a1a1a" stroke-width="1.4" />
<line x1="169.09" y1="776.60" x2="169.09" y2="771.60" stroke="#1a1a1a" stroke-width="1.4" />
<line x1="182.87" y1="583.90" x2="182.87" y2="588.90" stroke="#1a1a1a" stroke-width="1.4" />
<line x1="182.87" y1="776.60" x2="182.87" y2="771.60" stroke="#1a1a1a" stroke-width="1.4" />
<line x1="196.64" y1="583.90" x2="196.64" y2="593.90" stroke="#1a1a1a" stroke-width="1.4" />
<line x1="196.64" y1="776.60" x2="196.64" y2="766.60" stroke="#1a1a1a" stroke-width="1.4" />
<line x1="210.42" y1="583.90" x2="210.42" y2="588.90" stroke="#1a1a1a" stroke-width="1.4" />
<line x1="210.42" y1="776.60" x2="210.42" y2="771.60" stroke="#1a1a1a" stroke-width="1.4" />
<line x1="224.19" y1="583.90" x2="224.19" y2="588.90" stroke="#1a1a1a" stroke-width="1.4" />
<line x1="224.19" y1="776.60" x2="224.19" y2="771.60" stroke="#1a1a1a" stroke-width="1.4" />
<line x1="237.97" y1="583.90" x2="237.97" y2="588.90" stroke="#1a1a1a" stroke-width="1.4" />
<line x1="237.97" y1="776.60" x2="237.97" y2="771.60" stroke="#1a1a1a" stroke-width="1.4" />
<line x1="251.74" y1="583.90" x2="251.74" y2="588.90" stroke="#1a1a1a" stroke-width="1.4" />
<line x1="251.74" y1="776.60" x2="251.74" y2="771.60" stroke="#1a1a1a" stroke-width="1.4" />
<line x1="265.51" y1="583.90" x2="265.51" y2="593.90" stroke="#1a1a1a" stroke-width="1.4" />
<line x1="265.51" y1="776.60" x2="265.51" y2="766.60" stroke="#1a1a1a" stroke-width="1.4" />
<line x1="279.29" y1="583.90" x2="279.29" y2="588.90" stroke="#1a1a1a" stroke-width="1.4" />
<line x1="279.29" y1="776.60" x2="279.29" y2="771.60" stroke="#1a1a1a" stroke-width="1.4" />
<line x1="293.06" y1="583.90" x2="293.06" y2="588.90" stroke="#1a1a1a" stroke-width="1.4" />
<line x1="293.06" y1="776.60" x2="293.06" y2="771.60" stroke="#1a1a1a" stroke-width="1.4" />
<line x1="306.84" y1="583.90" x2="306.84" y2="588.90" stroke="#1a1a1a" stroke-width="1.4" />
<line x1="306.84" y1="776.60" x2="306.84" y2="771.60" stroke="#1a1a1a" stroke-width="1.4" />
<line x1="320.61" y1="583.90" x2="320.61" y2="588.90" stroke="#1a1a1a" stroke-width="1.4" />
<line x1="320.61" y1="776.60" x2="320.61" y2="771.60" stroke="#1a1a1a" stroke-width="1.4" />
<line x1="334.39" y1="583.90" x2="334.39" y2="593.90" stroke="#1a1a1a" stroke-width="1.4" />
<line x1="334.39" y1="776.60" x2="334.39" y2="766.60" stroke="#1a1a1a" stroke-width="1.4" />
<line x1="348.16" y1="583.90" x2="348.16" y2="588.90" stroke="#1a1a1a" stroke-width="1.4" />
<line x1="348.16" y1="776.60" x2="348.16" y2="771.60" stroke="#1a1a1a" stroke-width="1.4" />
<line x1="361.93" y1="583.90" x2="361.93" y2="588.90" stroke="#1a1a1a" stroke-width="1.4" />
<line x1="361.93" y1="776.60" x2="361.93" y2="771.60" stroke="#1a1a1a" stroke-width="1.4" />
<line x1="375.71" y1="583.90" x2="375.71" y2="588.90" stroke="#1a1a1a" stroke-width="1.4" />
<line x1="375.71" y1="776.60" x2="375.71" y2="771.60" stroke="#1a1a1a" stroke-width="1.4" />
<line x1="389.48" y1="583.90" x2="389.48" y2="588.90" stroke="#1a1a1a" stroke-width="1.4" />
<line x1="389.48" y1="776.60" x2="389.48" y2="771.60" stroke="#1a1a1a" stroke-width="1.4" />
<line x1="403.26" y1="583.90" x2="403.26" y2="593.90" stroke="#1a1a1a" stroke-width="1.4" />
<line x1="403.26" y1="776.60" x2="403.26" y2="766.60" stroke="#1a1a1a" stroke-width="1.4" />
<line x1="417.03" y1="583.90" x2="417.03" y2="588.90" stroke="#1a1a1a" stroke-width="1.4" />
<line x1="417.03" y1="776.60" x2="417.03" y2="771.60" stroke="#1a1a1a" stroke-width="1.4" />
<line x1="430.81" y1="583.90" x2="430.81" y2="588.90" stroke="#1a1a1a" stroke-width="1.4" />
<line x1="430.81" y1="776.60" x2="430.81" y2="771.60" stroke="#1a1a1a" stroke-width="1.4" />
<line x1="444.58" y1="583.90" x2="444.58" y2="588.90" stroke="#1a1a1a" stroke-width="1.4" />
<line x1="444.58" y1="776.60" x2="444.58" y2="771.60" stroke="#1a1a1a" stroke-width="1.4" />
<line x1="458.35" y1="583.90" x2="458.35" y2="588.90" stroke="#1a1a1a" stroke-width="1.4" />
<line x1="458.35" y1="776.60" x2="458.35" y2="771.60" stroke="#1a1a1a" stroke-width="1.4" />
<line x1="472.13" y1="583.90" x2="472.13" y2="593.90" stroke="#1a1a1a" stroke-width="1.4" />
<line x1="472.13" y1="776.60" x2="472.13" y2="766.60" stroke="#1a1a1a" stroke-width="1.4" />
<line x1="485.90" y1="583.90" x2="485.90" y2="588.90" stroke="#1a1a1a" stroke-width="1.4" />
<line x1="485.90" y1="776.60" x2="485.90" y2="771.60" stroke="#1a1a1a" stroke-width="1.4" />
<line x1="499.68" y1="583.90" x2="499.68" y2="588.90" stroke="#1a1a1a" stroke-width="1.4" />
<line x1="499.68" y1="776.60" x2="499.68" y2="771.60" stroke="#1a1a1a" stroke-width="1.4" />
<line x1="513.45" y1="583.90" x2="513.45" y2="588.90" stroke="#1a1a1a" stroke-width="1.4" />
<line x1="513.45" y1="776.60" x2="513.45" y2="771.60" stroke="#1a1a1a" stroke-width="1.4" />
<line x1="527.23" y1="583.90" x2="527.23" y2="588.90" stroke="#1a1a1a" stroke-width="1.4" />
<line x1="527.23" y1="776.60" x2="527.23" y2="771.60" stroke="#1a1a1a" stroke-width="1.4" />
<line x1="58.90" y1="590.91" x2="63.90" y2="590.91" stroke="#1a1a1a" stroke-width="1.4" />
<line x1="541.00" y1="590.91" x2="536.00" y2="590.91" stroke="#1a1a1a" stroke-width="1.4" />
<line x1="58.90" y1="597.91" x2="63.90" y2="597.91" stroke="#1a1a1a" stroke-width="1.4" />
<line x1="541.00" y1="597.91" x2="536.00" y2="597.91" stroke="#1a1a1a" stroke-width="1.4" />
<line x1="58.90" y1="604.92" x2="63.90" y2="604.92" stroke="#1a1a1a" stroke-width="1.4" />
<line x1="541.00" y1="604.92" x2="536.00" y2="604.92" stroke="#1a1a1a" stroke-width="1.4" />
<line x1="58.90" y1="611.93" x2="63.90" y2="611.93" stroke="#1a1a1a" stroke-width="1.4" />
<line x1="541.00" y1="611.93" x2="536.00" y2="611.93" stroke="#1a1a1a" stroke-width="1.4" />
<line x1="58.90" y1="618.94" x2="68.90" y2="618.94" stroke="#1a1a1a" stroke-width="1.4" />
<line x1="541.00" y1="618.94" x2="531.00" y2="618.94" stroke="#1a1a1a" stroke-width="1.4" />
<line x1="58.90" y1="625.94" x2="63.90" y2="625.94" stroke="#1a1a1a" stroke-width="1.4" />
<line x1="541.00" y1="625.94" x2="536.00" y2="625.94" stroke="#1a1a1a" stroke-width="1.4" />
<line x1="58.90" y1="632.95" x2="63.90" y2="632.95" stroke="#1a1a1a" stroke-width="1.4" />
<line x1="541.00" y1="632.95" x2="536.00" y2="632.95" stroke="#1a1a1a" stroke-width="1.4" />
<line x1="58.90" y1="639.96" x2="63.90" y2="639.96" stroke="#1a1a1a" stroke-width="1.4" />
<line x1="541.00" y1="639.96" x2="536.00" y2="639.96" stroke="#1a1a1a" stroke-width="1.4" />
<line x1="58.90" y1="646.97" x2="63.90" y2="646.97" stroke="#1a1a1a" stroke-width="1.4" />
<line x1="541.00" y1="646.97" x2="536.00" y2="646.97" stroke="#1a1a1a" stroke-width="1.4" />
<line x1="58.90" y1="653.97" x2="68.90" y2="653.97" stroke="#1a1a1a" stroke-width="1.4" />
<line x1="541.00" y1="653.97" x2="531.00" y2="653.97" stroke="#1a1a1a" stroke-width="1.4" />
<line x1="58.90" y1="660.98" x2="63.90" y2="660.98" stroke="#1a1a1a" stroke-width="1.4" />
<line x1="541.00" y1="660.98" x2="536.00" y2="660.98" stroke="#1a1a1a" stroke-width="1.4" />
<line x1="58.90" y1="667.99" x2="63.90" y2="667.99" stroke="#1a1a1a" stroke-width="1.4" />
<line x1="541.00" y1="667.99" x2="536.00" y2="667.99" stroke="#1a1a1a" stroke-width="1.4" />
<line x1="58.90" y1="674.99" x2="63.90" y2="674.99" stroke="#1a1a1a" stroke-width="1.4" />
<line x1="541.00" y1="674.99" x2="536.00" y2="674.99" stroke="#1a1a1a" stroke-width="1.4" />
<line x1="58.90" y1="682.00" x2="63.90" y2="682.00" stroke="#1a1a1a" stroke-width="1.4" />
<line x1="541.00" y1="682.00" x2="536.00" y2="682.00" stroke="#1a1a1a" stroke-width="1.4" />
<line x1="58.90" y1="689.01" x2="68.90" y2="689.01" stroke="#1a1a1a" stroke-width="1.4" />
<line x1="541.00" y1="689.01" x2="531.00" y2="689.01" stroke="#1a1a1a" stroke-width="1.4" />
<line x1="58.90" y1="696.02" x2="63.90" y2="696.02" stroke="#1a1a1a" stroke-width="1.4" />
<line x1="541.00" y1="696.02" x2="536.00" y2="696.02" stroke="#1a1a1a" stroke-width="1.4" />
<line x1="58.90" y1="703.02" x2="63.90" y2="703.02" stroke="#1a1a1a" stroke-width="1.4" />
<line x1="541.00" y1="703.02" x2="536.00" y2="703.02" stroke="#1a1a1a" stroke-width="1.4" />
<line x1="58.90" y1="710.03" x2="63.90" y2="710.03" stroke="#1a1a1a" stroke-width="1.4" />
<line x1="541.00" y1="710.03" x2="536.00" y2="710.03" stroke="#1a1a1a" stroke-width="1.4" />
<line x1="58.90" y1="717.04" x2="63.90" y2="717.04" stroke="#1a1a1a" stroke-width="1.4" />
<line x1="541.00" y1="717.04" x2="536.00" y2="717.04" stroke="#1a1a1a" stroke-width="1.4" />
<line x1="58.90" y1="724.05" x2="68.90" y2="724.05" stroke="#1a1a1a" stroke-width="1.4" />
<line x1="541.00" y1="724.05" x2="531.00" y2="724.05" stroke="#1a1a1a" stroke-width="1.4" />
<line x1="58.90" y1="731.05" x2="63.90" y2="731.05" stroke="#1a1a1a" stroke-width="1.4" />
<line x1="541.00" y1="731.05" x2="536.00" y2="731.05" stroke="#1a1a1a" stroke-width="1.4" />
<line x1="58.90" y1="738.06" x2="63.90" y2="738.06" stroke="#1a1a1a" stroke-width="1.4" />
<line x1="541.00" y1="738.06" x2="536.00" y2="738.06" stroke="#1a1a1a" stroke-width="1.4" />
<line x1="58.90" y1="745.07" x2="63.90" y2="745.07" stroke="#1a1a1a" stroke-width="1.4" />
<line x1="541.00" y1="745.07" x2="536.00" y2="745.07" stroke="#1a1a1a" stroke-width="1.4" />
<line x1="58.90" y1="752.07" x2="63.90" y2="752.07" stroke="#1a1a1a" stroke-width="1.4" />
<line x1="541.00" y1="752.07" x2="536.00" y2="752.07" stroke="#1a1a1a" stroke-width="1.4" />
<line x1="58.90" y1="759.08" x2="68.90" y2="759.08" stroke="#1a1a1a" stroke-width="1.4" />
<line x1="541.00" y1="759.08" x2="531.00" y2="759.08" stroke="#1a1a1a" stroke-width="1.4" />
<line x1="58.90" y1="766.09" x2="63.90" y2="766.09" stroke="#1a1a1a" stroke-width="1.4" />
<line x1="541.00" y1="766.09" x2="536.00" y2="766.09" stroke="#1a1a1a" stroke-width="1.4" />
<line x1="58.90" y1="773.10" x2="63.90" y2="773.10" stroke="#1a1a1a" stroke-width="1.4" />
<line x1="541.00" y1="773.10" x2="536.00" y2="773.10" stroke="#1a1a1a" stroke-width="1.4" />
<line x1="59.00" y1="102.00" x2="68.50" y2="102.00" stroke="#808080" stroke-width="1.7"/>
<line x1="72.00" y1="102.00" x2="81.50" y2="102.00" stroke="#808080" stroke-width="1.7"/>
<line x1="85.00" y1="102.00" x2="94.50" y2="102.00" stroke="#808080" stroke-width="1.7"/>
<line x1="98.00" y1="102.00" x2="107.50" y2="102.00" stroke="#808080" stroke-width="1.7"/>
<line x1="111.00" y1="102.00" x2="120.50" y2="102.00" stroke="#808080" stroke-width="1.7"/>
<line x1="124.00" y1="102.00" x2="133.50" y2="102.00" stroke="#808080" stroke-width="1.7"/>
<line x1="137.00" y1="102.00" x2="146.50" y2="102.00" stroke="#808080" stroke-width="1.7"/>
<line x1="150.00" y1="102.00" x2="159.50" y2="102.00" stroke="#808080" stroke-width="1.7"/>
<line x1="163.00" y1="102.00" x2="172.50" y2="102.00" stroke="#808080" stroke-width="1.7"/>
<line x1="176.00" y1="102.00" x2="185.50" y2="102.00" stroke="#808080" stroke-width="1.7"/>
<line x1="189.00" y1="102.00" x2="198.50" y2="102.00" stroke="#808080" stroke-width="1.7"/>
<line x1="202.00" y1="102.00" x2="211.50" y2="102.00" stroke="#808080" stroke-width="1.7"/>
<line x1="215.00" y1="102.00" x2="224.50" y2="102.00" stroke="#808080" stroke-width="1.7"/>
<line x1="228.00" y1="102.00" x2="237.50" y2="102.00" stroke="#808080" stroke-width="1.7"/>
<line x1="241.00" y1="102.00" x2="250.50" y2="102.00" stroke="#808080" stroke-width="1.7"/>
<line x1="254.00" y1="102.00" x2="263.50" y2="102.00" stroke="#808080" stroke-width="1.7"/>
<line x1="267.00" y1="102.00" x2="276.50" y2="102.00" stroke="#808080" stroke-width="1.7"/>
<line x1="280.00" y1="102.00" x2="289.50" y2="102.00" stroke="#808080" stroke-width="1.7"/>
<line x1="293.00" y1="102.00" x2="302.50" y2="102.00" stroke="#808080" stroke-width="1.7"/>
<line x1="306.00" y1="102.00" x2="315.50" y2="102.00" stroke="#808080" stroke-width="1.7"/>
<line x1="319.00" y1="102.00" x2="328.50" y2="102.00" stroke="#808080" stroke-width="1.7"/>
<line x1="332.00" y1="102.00" x2="341.50" y2="102.00" stroke="#808080" stroke-width="1.7"/>
<line x1="345.00" y1="102.00" x2="354.50" y2="102.00" stroke="#808080" stroke-width="1.7"/>
<line x1="358.00" y1="102.00" x2="367.50" y2="102.00" stroke="#808080" stroke-width="1.7"/>
<line x1="371.00" y1="102.00" x2="380.50" y2="102.00" stroke="#808080" stroke-width="1.7"/>
<line x1="384.00" y1="102.00" x2="393.50" y2="102.00" stroke="#808080" stroke-width="1.7"/>
<line x1="397.00" y1="102.00" x2="406.50" y2="102.00" stroke="#808080" stroke-width="1.7"/>
<line x1="410.00" y1="102.00" x2="419.50" y2="102.00" stroke="#808080" stroke-width="1.7"/>
<line x1="423.00" y1="102.00" x2="432.50" y2="102.00" stroke="#808080" stroke-width="1.7"/>
<line x1="436.00" y1="102.00" x2="445.50" y2="102.00" stroke="#808080" stroke-width="1.7"/>
<line x1="449.00" y1="102.00" x2="458.50" y2="102.00" stroke="#808080" stroke-width="1.7"/>
<line x1="462.00" y1="102.00" x2="471.50" y2="102.00" stroke="#808080" stroke-width="1.7"/>
<line x1="475.00" y1="102.00" x2="484.50" y2="102.00" stroke="#808080" stroke-width="1.7"/>
<line x1="488.00" y1="102.00" x2="497.50" y2="102.00" stroke="#808080" stroke-width="1.7"/>
<line x1="501.00" y1="102.00" x2="510.50" y2="102.00" stroke="#808080" stroke-width="1.7"/>
<line x1="514.00" y1="102.00" x2="523.50" y2="102.00" stroke="#808080" stroke-width="1.7"/>
<line x1="527.00" y1="102.00" x2="541.00" y2="102.00" stroke="#808080" stroke-width="1.7"/>
<line x1="59.00" y1="295.00" x2="68.50" y2="295.00" stroke="#808080" stroke-width="1.7"/>
<line x1="72.00" y1="295.00" x2="81.50" y2="295.00" stroke="#808080" stroke-width="1.7"/>
<line x1="85.00" y1="295.00" x2="94.50" y2="295.00" stroke="#808080" stroke-width="1.7"/>
<line x1="98.00" y1="295.00" x2="107.50" y2="295.00" stroke="#808080" stroke-width="1.7"/>
<line x1="111.00" y1="295.00" x2="120.50" y2="295.00" stroke="#808080" stroke-width="1.7"/>
<line x1="124.00" y1="295.00" x2="133.50" y2="295.00" stroke="#808080" stroke-width="1.7"/>
<line x1="137.00" y1="295.00" x2="146.50" y2="295.00" stroke="#808080" stroke-width="1.7"/>
<line x1="150.00" y1="295.00" x2="159.50" y2="295.00" stroke="#808080" stroke-width="1.7"/>
<line x1="163.00" y1="295.00" x2="172.50" y2="295.00" stroke="#808080" stroke-width="1.7"/>
<line x1="176.00" y1="295.00" x2="185.50" y2="295.00" stroke="#808080" stroke-width="1.7"/>
<line x1="189.00" y1="295.00" x2="198.50" y2="295.00" stroke="#808080" stroke-width="1.7"/>
<line x1="202.00" y1="295.00" x2="211.50" y2="295.00" stroke="#808080" stroke-width="1.7"/>
<line x1="215.00" y1="295.00" x2="224.50" y2="295.00" stroke="#808080" stroke-width="1.7"/>
<line x1="228.00" y1="295.00" x2="237.50" y2="295.00" stroke="#808080" stroke-width="1.7"/>
<line x1="241.00" y1="295.00" x2="250.50" y2="295.00" stroke="#808080" stroke-width="1.7"/>
<line x1="254.00" y1="295.00" x2="263.50" y2="295.00" stroke="#808080" stroke-width="1.7"/>
<line x1="267.00" y1="295.00" x2="276.50" y2="295.00" stroke="#808080" stroke-width="1.7"/>
<line x1="280.00" y1="295.00" x2="289.50" y2="295.00" stroke="#808080" stroke-width="1.7"/>
<line x1="293.00" y1="295.00" x2="302.50" y2="295.00" stroke="#808080" stroke-width="1.7"/>
<line x1="306.00" y1="295.00" x2="315.50" y2="295.00" stroke="#808080" stroke-width="1.7"/>
<line x1="319.00" y1="295.00" x2="328.50" y2="295.00" stroke="#808080" stroke-width="1.7"/>
<line x1="332.00" y1="295.00" x2="341.50" y2="295.00" stroke="#808080" stroke-width="1.7"/>
<line x1="345.00" y1="295.00" x2="354.50" y2="295.00" stroke="#808080" stroke-width="1.7"/>
<line x1="358.00" y1="295.00" x2="367.50" y2="295.00" stroke="#808080" stroke-width="1.7"/>
<line x1="371.00" y1="295.00" x2="380.50" y2="295.00" stroke="#808080" stroke-width="1.7"/>
<line x1="384.00" y1="295.00" x2="393.50" y2="295.00" stroke="#808080" stroke-width="1.7"/>
<line x1="397.00" y1="295.00" x2="406.50" y2="295.00" stroke="#808080" stroke-width="1.7"/>
<line x1="410.00" y1="295.00" x2="419.50" y2="295.00" stroke="#808080" stroke-width="1.7"/>
<line x1="423.00" y1="295.00" x2="432.50" y2="295.00" stroke="#808080" stroke-width="1.7"/>
<line x1="436.00" y1="295.00" x2="445.50" y2="295.00" stroke="#808080" stroke-width="1.7"/>
<line x1="449.00" y1="295.00" x2="458.50" y2="295.00" stroke="#808080" stroke-width="1.7"/>
<line x1="462.00" y1="295.00" x2="471.50" y2="295.00" stroke="#808080" stroke-width="1.7"/>
<line x1="475.00" y1="295.00" x2="484.50" y2="295.00" stroke="#808080" stroke-width="1.7"/>
<line x1="488.00" y1="295.00" x2="497.50" y2="295.00" stroke="#808080" stroke-width="1.7"/>
<line x1="501.00" y1="295.00" x2="510.50" y2="295.00" stroke="#808080" stroke-width="1.7"/>
<line x1="514.00" y1="295.00" x2="523.50" y2="295.00" stroke="#808080" stroke-width="1.7"/>
<line x1="527.00" y1="295.00" x2="541.00" y2="295.00" stroke="#808080" stroke-width="1.7"/>
<line x1="59.00" y1="487.70" x2="68.50" y2="487.70" stroke="#808080" stroke-width="1.7"/>
<line x1="72.00" y1="487.70" x2="81.50" y2="487.70" stroke="#808080" stroke-width="1.7"/>
<line x1="85.00" y1="487.70" x2="94.50" y2="487.70" stroke="#808080" stroke-width="1.7"/>
<line x1="98.00" y1="487.70" x2="107.50" y2="487.70" stroke="#808080" stroke-width="1.7"/>
<line x1="111.00" y1="487.70" x2="120.50" y2="487.70" stroke="#808080" stroke-width="1.7"/>
<line x1="124.00" y1="487.70" x2="133.50" y2="487.70" stroke="#808080" stroke-width="1.7"/>
<line x1="137.00" y1="487.70" x2="146.50" y2="487.70" stroke="#808080" stroke-width="1.7"/>
<line x1="150.00" y1="487.70" x2="159.50" y2="487.70" stroke="#808080" stroke-width="1.7"/>
<line x1="163.00" y1="487.70" x2="172.50" y2="487.70" stroke="#808080" stroke-width="1.7"/>
<line x1="176.00" y1="487.70" x2="185.50" y2="487.70" stroke="#808080" stroke-width="1.7"/>
<line x1="189.00" y1="487.70" x2="198.50" y2="487.70" stroke="#808080" stroke-width="1.7"/>
<line x1="202.00" y1="487.70" x2="211.50" y2="487.70" stroke="#808080" stroke-width="1.7"/>
<line x1="215.00" y1="487.70" x2="224.50" y2="487.70" stroke="#808080" stroke-width="1.7"/>
<line x1="228.00" y1="487.70" x2="237.50" y2="487.70" stroke="#808080" stroke-width="1.7"/>
<line x1="241.00" y1="487.70" x2="250.50" y2="487.70" stroke="#808080" stroke-width="1.7"/>
<line x1="254.00" y1="487.70" x2="263.50" y2="487.70" stroke="#808080" stroke-width="1.7"/>
<line x1="267.00" y1="487.70" x2="276.50" y2="487.70" stroke="#808080" stroke-width="1.7"/>
<line x1="280.00" y1="487.70" x2="289.50" y2="487.70" stroke="#808080" stroke-width="1.7"/>
<line x1="293.00" y1="487.70" x2="302.50" y2="487.70" stroke="#808080" stroke-width="1.7"/>
<line x1="306.00" y1="487.70" x2="315.50" y2="487.70" stroke="#808080" stroke-width="1.7"/>
<line x1="319.00" y1="487.70" x2="328.50" y2="487.70" stroke="#808080" stroke-width="1.7"/>
<line x1="332.00" y1="487.70" x2="341.50" y2="487.70" stroke="#808080" stroke-width="1.7"/>
<line x1="345.00" y1="487.70" x2="354.50" y2="487.70" stroke="#808080" stroke-width="1.7"/>
<line x1="358.00" y1="487.70" x2="367.50" y2="487.70" stroke="#808080" stroke-width="1.7"/>
<line x1="371.00" y1="487.70" x2="380.50" y2="487.70" stroke="#808080" stroke-width="1.7"/>
<line x1="384.00" y1="487.70" x2="393.50" y2="487.70" stroke="#808080" stroke-width="1.7"/>
<line x1="397.00" y1="487.70" x2="406.50" y2="487.70" stroke="#808080" stroke-width="1.7"/>
<line x1="410.00" y1="487.70" x2="419.50" y2="487.70" stroke="#808080" stroke-width="1.7"/>
<line x1="423.00" y1="487.70" x2="432.50" y2="487.70" stroke="#808080" stroke-width="1.7"/>
<line x1="436.00" y1="487.70" x2="445.50" y2="487.70" stroke="#808080" stroke-width="1.7"/>
<line x1="449.00" y1="487.70" x2="458.50" y2="487.70" stroke="#808080" stroke-width="1.7"/>
<line x1="462.00" y1="487.70" x2="471.50" y2="487.70" stroke="#808080" stroke-width="1.7"/>
<line x1="475.00" y1="487.70" x2="484.50" y2="487.70" stroke="#808080" stroke-width="1.7"/>
<line x1="488.00" y1="487.70" x2="497.50" y2="487.70" stroke="#808080" stroke-width="1.7"/>
<line x1="501.00" y1="487.70" x2="510.50" y2="487.70" stroke="#808080" stroke-width="1.7"/>
<line x1="514.00" y1="487.70" x2="523.50" y2="487.70" stroke="#808080" stroke-width="1.7"/>
<line x1="527.00" y1="487.70" x2="541.00" y2="487.70" stroke="#808080" stroke-width="1.7"/>
<line x1="58.70" y1="683.60" x2="68.70" y2="683.60" stroke="#808080" stroke-width="1.7"/>
<line x1="72.18" y1="683.60" x2="82.18" y2="683.60" stroke="#808080" stroke-width="1.7"/>
<line x1="85.65" y1="683.60" x2="95.65" y2="683.60" stroke="#808080" stroke-width="1.7"/>
<line x1="99.13" y1="683.60" x2="109.13" y2="683.60" stroke="#808080" stroke-width="1.7"/>
<line x1="112.61" y1="683.60" x2="122.61" y2="683.60" stroke="#808080" stroke-width="1.7"/>
<line x1="126.09" y1="683.60" x2="136.09" y2="683.60" stroke="#808080" stroke-width="1.7"/>
<line x1="139.56" y1="683.60" x2="149.56" y2="683.60" stroke="#808080" stroke-width="1.7"/>
<line x1="153.04" y1="683.60" x2="163.04" y2="683.60" stroke="#808080" stroke-width="1.7"/>
<line x1="166.52" y1="683.60" x2="176.52" y2="683.60" stroke="#808080" stroke-width="1.7"/>
<line x1="179.99" y1="683.60" x2="189.99" y2="683.60" stroke="#808080" stroke-width="1.7"/>
<line x1="193.47" y1="683.60" x2="203.47" y2="683.60" stroke="#808080" stroke-width="1.7"/>
<line x1="206.95" y1="683.60" x2="216.95" y2="683.60" stroke="#808080" stroke-width="1.7"/>
<line x1="220.42" y1="683.60" x2="230.42" y2="683.60" stroke="#808080" stroke-width="1.7"/>
<line x1="233.90" y1="683.60" x2="243.90" y2="683.60" stroke="#808080" stroke-width="1.7"/>
<line x1="247.38" y1="683.60" x2="257.38" y2="683.60" stroke="#808080" stroke-width="1.7"/>
<line x1="260.86" y1="683.60" x2="270.86" y2="683.60" stroke="#808080" stroke-width="1.7"/>
<line x1="274.33" y1="683.60" x2="284.33" y2="683.60" stroke="#808080" stroke-width="1.7"/>
<line x1="287.81" y1="683.60" x2="297.81" y2="683.60" stroke="#808080" stroke-width="1.7"/>
<line x1="301.29" y1="683.60" x2="311.29" y2="683.60" stroke="#808080" stroke-width="1.7"/>
<line x1="314.76" y1="683.60" x2="324.76" y2="683.60" stroke="#808080" stroke-width="1.7"/>
<line x1="328.24" y1="683.60" x2="338.24" y2="683.60" stroke="#808080" stroke-width="1.7"/>
<line x1="341.72" y1="683.60" x2="351.72" y2="683.60" stroke="#808080" stroke-width="1.7"/>
<line x1="355.19" y1="683.60" x2="365.19" y2="683.60" stroke="#808080" stroke-width="1.7"/>
<line x1="368.67" y1="683.60" x2="378.67" y2="683.60" stroke="#808080" stroke-width="1.7"/>
<line x1="382.15" y1="683.60" x2="392.15" y2="683.60" stroke="#808080" stroke-width="1.7"/>
<line x1="395.62" y1="683.60" x2="405.62" y2="683.60" stroke="#808080" stroke-width="1.7"/>
<line x1="409.10" y1="683.60" x2="419.10" y2="683.60" stroke="#808080" stroke-width="1.7"/>
<line x1="422.58" y1="683.60" x2="432.58" y2="683.60" stroke="#808080" stroke-width="1.7"/>
<line x1="436.06" y1="683.60" x2="446.06" y2="683.60" stroke="#808080" stroke-width="1.7"/>
<line x1="449.53" y1="683.60" x2="459.53" y2="683.60" stroke="#808080" stroke-width="1.7"/>
<line x1="463.01" y1="683.60" x2="473.01" y2="683.60" stroke="#808080" stroke-width="1.7"/>
<line x1="476.49" y1="683.60" x2="486.49" y2="683.60" stroke="#808080" stroke-width="1.7"/>
<line x1="489.96" y1="683.60" x2="499.96" y2="683.60" stroke="#808080" stroke-width="1.7"/>
<line x1="503.44" y1="683.60" x2="513.44" y2="683.60" stroke="#808080" stroke-width="1.7"/>
<line x1="516.92" y1="683.60" x2="526.92" y2="683.60" stroke="#808080" stroke-width="1.7"/>
<line x1="530.39" y1="683.60" x2="541.00" y2="683.60" stroke="#808080" stroke-width="1.7"/>
<line x1="58.90" y1="5.80" x2="541.00" y2="5.80" stroke="#1a1a1a" stroke-width="1.5" />
<line x1="58.90" y1="198.40" x2="541.00" y2="198.40" stroke="#1a1a1a" stroke-width="1.5" />
<line x1="58.90" y1="391.20" x2="541.00" y2="391.20" stroke="#1a1a1a" stroke-width="1.5" />
<line x1="58.90" y1="583.90" x2="541.00" y2="583.90" stroke="#1a1a1a" stroke-width="1.5" />
<line x1="58.90" y1="776.60" x2="541.00" y2="776.60" stroke="#1a1a1a" stroke-width="1.5" />
<line x1="58.90" y1="5.80" x2="58.90" y2="776.60" stroke="#1a1a1a" stroke-width="1.5" />
<line x1="541.00" y1="5.80" x2="541.00" y2="776.60" stroke="#1a1a1a" stroke-width="1.5" />
<line x1="73.15" y1="18.30" x2="73.15" y2="69.30" stroke="#3c3c3c" stroke-width="1.6" />
<line x1="67.95" y1="18.30" x2="78.35" y2="18.30" stroke="#3c3c3c" stroke-width="1.6" />
<line x1="67.95" y1="69.30" x2="78.35" y2="69.30" stroke="#3c3c3c" stroke-width="1.6" />
<line x1="121.00" y1="95.00" x2="121.00" y2="146.30" stroke="#3c3c3c" stroke-width="1.6" />
<line x1="115.80" y1="95.00" x2="126.20" y2="95.00" stroke="#3c3c3c" stroke-width="1.6" />
<line x1="115.80" y1="146.30" x2="126.20" y2="146.30" stroke="#3c3c3c" stroke-width="1.6" />
<line x1="268.60" y1="112.80" x2="268.60" y2="164.20" stroke="#3c3c3c" stroke-width="1.6" />
<line x1="263.40" y1="112.80" x2="273.80" y2="112.80" stroke="#3c3c3c" stroke-width="1.6" />
<line x1="263.40" y1="164.20" x2="273.80" y2="164.20" stroke="#3c3c3c" stroke-width="1.6" />
<line x1="281.30" y1="139.50" x2="281.30" y2="190.80" stroke="#3c3c3c" stroke-width="1.6" />
<line x1="276.10" y1="139.50" x2="286.50" y2="139.50" stroke="#3c3c3c" stroke-width="1.6" />
<line x1="276.10" y1="190.80" x2="286.50" y2="190.80" stroke="#3c3c3c" stroke-width="1.6" />
<line x1="305.00" y1="63.30" x2="305.00" y2="115.00" stroke="#3c3c3c" stroke-width="1.6" />
<line x1="299.80" y1="63.30" x2="310.20" y2="63.30" stroke="#3c3c3c" stroke-width="1.6" />
<line x1="299.80" y1="115.00" x2="310.20" y2="115.00" stroke="#3c3c3c" stroke-width="1.6" />
<line x1="327.80" y1="121.70" x2="327.80" y2="173.00" stroke="#3c3c3c" stroke-width="1.6" />
<line x1="322.60" y1="121.70" x2="333.00" y2="121.70" stroke="#3c3c3c" stroke-width="1.6" />
<line x1="322.60" y1="173.00" x2="333.00" y2="173.00" stroke="#3c3c3c" stroke-width="1.6" />
<line x1="354.60" y1="49.30" x2="354.60" y2="100.80" stroke="#3c3c3c" stroke-width="1.6" />
<line x1="349.40" y1="49.30" x2="359.80" y2="49.30" stroke="#3c3c3c" stroke-width="1.6" />
<line x1="349.40" y1="100.80" x2="359.80" y2="100.80" stroke="#3c3c3c" stroke-width="1.6" />
<line x1="358.80" y1="38.00" x2="358.80" y2="89.20" stroke="#3c3c3c" stroke-width="1.6" />
<line x1="353.60" y1="38.00" x2="364.00" y2="38.00" stroke="#3c3c3c" stroke-width="1.6" />
<line x1="353.60" y1="89.20" x2="364.00" y2="89.20" stroke="#3c3c3c" stroke-width="1.6" />
<line x1="368.70" y1="41.60" x2="368.70" y2="93.00" stroke="#3c3c3c" stroke-width="1.6" />
<line x1="363.50" y1="41.60" x2="373.90" y2="41.60" stroke="#3c3c3c" stroke-width="1.6" />
<line x1="363.50" y1="93.00" x2="373.90" y2="93.00" stroke="#3c3c3c" stroke-width="1.6" />
<line x1="379.80" y1="37.00" x2="379.80" y2="88.00" stroke="#3c3c3c" stroke-width="1.6" />
<line x1="374.60" y1="37.00" x2="385.00" y2="37.00" stroke="#3c3c3c" stroke-width="1.6" />
<line x1="374.60" y1="88.00" x2="385.00" y2="88.00" stroke="#3c3c3c" stroke-width="1.6" />
<line x1="417.10" y1="18.00" x2="417.10" y2="69.60" stroke="#3c3c3c" stroke-width="1.6" />
<line x1="411.90" y1="18.00" x2="422.30" y2="18.00" stroke="#3c3c3c" stroke-width="1.6" />
<line x1="411.90" y1="69.60" x2="422.30" y2="69.60" stroke="#3c3c3c" stroke-width="1.6" />
<line x1="465.00" y1="94.60" x2="465.00" y2="146.40" stroke="#3c3c3c" stroke-width="1.6" />
<line x1="459.80" y1="94.60" x2="470.20" y2="94.60" stroke="#3c3c3c" stroke-width="1.6" />
<line x1="459.80" y1="146.40" x2="470.20" y2="146.40" stroke="#3c3c3c" stroke-width="1.6" />
<circle cx="72.85" cy="43.30" r="3.55" fill="#ff0000" stroke="#000" stroke-width="1.2"/>
<circle cx="120.70" cy="120.00" r="3.55" fill="#ff0000" stroke="#000" stroke-width="1.2"/>
<circle cx="268.30" cy="137.80" r="3.55" fill="#ff0000" stroke="#000" stroke-width="1.2"/>
<circle cx="281.00" cy="164.70" r="3.55" fill="#ff0000" stroke="#000" stroke-width="1.2"/>
<circle cx="304.70" cy="88.70" r="3.55" fill="#ff0000" stroke="#000" stroke-width="1.2"/>
<circle cx="327.50" cy="147.00" r="3.55" fill="#ff0000" stroke="#000" stroke-width="1.2"/>
<circle cx="354.30" cy="74.50" r="3.55" fill="#ff0000" stroke="#000" stroke-width="1.2"/>
<circle cx="358.50" cy="63.00" r="3.55" fill="#ff0000" stroke="#000" stroke-width="1.2"/>
<circle cx="368.40" cy="67.00" r="3.55" fill="#ff0000" stroke="#000" stroke-width="1.2"/>
<circle cx="379.50" cy="62.00" r="3.55" fill="#ff0000" stroke="#000" stroke-width="1.2"/>
<circle cx="416.80" cy="43.00" r="3.55" fill="#ff0000" stroke="#000" stroke-width="1.2"/>
<circle cx="464.70" cy="120.00" r="3.55" fill="#ff0000" stroke="#000" stroke-width="1.2"/>
<line x1="73.15" y1="206.50" x2="73.15" y2="254.80" stroke="#3c3c3c" stroke-width="1.6" />
<line x1="67.95" y1="206.50" x2="78.35" y2="206.50" stroke="#3c3c3c" stroke-width="1.6" />
<line x1="67.95" y1="254.80" x2="78.35" y2="254.80" stroke="#3c3c3c" stroke-width="1.6" />
<line x1="121.00" y1="262.00" x2="121.00" y2="309.60" stroke="#3c3c3c" stroke-width="1.6" />
<line x1="115.80" y1="262.00" x2="126.20" y2="262.00" stroke="#3c3c3c" stroke-width="1.6" />
<line x1="115.80" y1="309.60" x2="126.20" y2="309.60" stroke="#3c3c3c" stroke-width="1.6" />
<line x1="268.60" y1="302.30" x2="268.60" y2="350.10" stroke="#3c3c3c" stroke-width="1.6" />
<line x1="263.40" y1="302.30" x2="273.80" y2="302.30" stroke="#3c3c3c" stroke-width="1.6" />
<line x1="263.40" y1="350.10" x2="273.80" y2="350.10" stroke="#3c3c3c" stroke-width="1.6" />
<line x1="281.30" y1="324.30" x2="281.30" y2="372.40" stroke="#3c3c3c" stroke-width="1.6" />
<line x1="276.10" y1="324.30" x2="286.50" y2="324.30" stroke="#3c3c3c" stroke-width="1.6" />
<line x1="276.10" y1="372.40" x2="286.50" y2="372.40" stroke="#3c3c3c" stroke-width="1.6" />
<line x1="305.00" y1="248.00" x2="305.00" y2="296.20" stroke="#3c3c3c" stroke-width="1.6" />
<line x1="299.80" y1="248.00" x2="310.20" y2="248.00" stroke="#3c3c3c" stroke-width="1.6" />
<line x1="299.80" y1="296.20" x2="310.20" y2="296.20" stroke="#3c3c3c" stroke-width="1.6" />
<line x1="327.80" y1="297.80" x2="327.80" y2="345.80" stroke="#3c3c3c" stroke-width="1.6" />
<line x1="322.60" y1="297.80" x2="333.00" y2="297.80" stroke="#3c3c3c" stroke-width="1.6" />
<line x1="322.60" y1="345.80" x2="333.00" y2="345.80" stroke="#3c3c3c" stroke-width="1.6" />
<line x1="354.60" y1="247.30" x2="354.60" y2="295.40" stroke="#3c3c3c" stroke-width="1.6" />
<line x1="349.40" y1="247.30" x2="359.80" y2="247.30" stroke="#3c3c3c" stroke-width="1.6" />
<line x1="349.40" y1="295.40" x2="359.80" y2="295.40" stroke="#3c3c3c" stroke-width="1.6" />
<line x1="358.80" y1="239.80" x2="358.80" y2="287.70" stroke="#3c3c3c" stroke-width="1.6" />
<line x1="353.60" y1="239.80" x2="364.00" y2="239.80" stroke="#3c3c3c" stroke-width="1.6" />
<line x1="353.60" y1="287.70" x2="364.00" y2="287.70" stroke="#3c3c3c" stroke-width="1.6" />
<line x1="368.70" y1="224.20" x2="368.70" y2="272.50" stroke="#3c3c3c" stroke-width="1.6" />
<line x1="363.50" y1="224.20" x2="373.90" y2="224.20" stroke="#3c3c3c" stroke-width="1.6" />
<line x1="363.50" y1="272.50" x2="373.90" y2="272.50" stroke="#3c3c3c" stroke-width="1.6" />
<line x1="379.80" y1="252.70" x2="379.80" y2="300.70" stroke="#3c3c3c" stroke-width="1.6" />
<line x1="374.60" y1="252.70" x2="385.00" y2="252.70" stroke="#3c3c3c" stroke-width="1.6" />
<line x1="374.60" y1="300.70" x2="385.00" y2="300.70" stroke="#3c3c3c" stroke-width="1.6" />
<line x1="417.10" y1="206.50" x2="417.10" y2="255.00" stroke="#3c3c3c" stroke-width="1.6" />
<line x1="411.90" y1="206.50" x2="422.30" y2="206.50" stroke="#3c3c3c" stroke-width="1.6" />
<line x1="411.90" y1="255.00" x2="422.30" y2="255.00" stroke="#3c3c3c" stroke-width="1.6" />
<line x1="465.00" y1="262.00" x2="465.00" y2="309.80" stroke="#3c3c3c" stroke-width="1.6" />
<line x1="459.80" y1="262.00" x2="470.20" y2="262.00" stroke="#3c3c3c" stroke-width="1.6" />
<line x1="459.80" y1="309.80" x2="470.20" y2="309.80" stroke="#3c3c3c" stroke-width="1.6" />
<circle cx="72.85" cy="230.40" r="3.55" fill="#ff8000" stroke="#000" stroke-width="1.2"/>
<circle cx="120.70" cy="285.40" r="3.55" fill="#ff8000" stroke="#000" stroke-width="1.2"/>
<circle cx="268.30" cy="325.50" r="3.55" fill="#ff8000" stroke="#000" stroke-width="1.2"/>
<circle cx="281.00" cy="347.80" r="3.55" fill="#ff8000" stroke="#000" stroke-width="1.2"/>
<circle cx="304.70" cy="271.60" r="3.55" fill="#ff8000" stroke="#000" stroke-width="1.2"/>
<circle cx="327.50" cy="321.00" r="3.55" fill="#ff8000" stroke="#000" stroke-width="1.2"/>
<circle cx="354.30" cy="270.60" r="3.55" fill="#ff8000" stroke="#000" stroke-width="1.2"/>
<circle cx="358.50" cy="263.20" r="3.55" fill="#ff8000" stroke="#000" stroke-width="1.2"/>
<circle cx="368.40" cy="248.00" r="3.55" fill="#ff8000" stroke="#000" stroke-width="1.2"/>
<circle cx="379.50" cy="276.00" r="3.55" fill="#ff8000" stroke="#000" stroke-width="1.2"/>
<circle cx="416.80" cy="230.30" r="3.55" fill="#ff8000" stroke="#000" stroke-width="1.2"/>
<circle cx="464.70" cy="285.80" r="3.55" fill="#ff8000" stroke="#000" stroke-width="1.2"/>
<line x1="73.15" y1="430.80" x2="73.15" y2="488.00" stroke="#3c3c3c" stroke-width="1.6" />
<line x1="67.95" y1="430.80" x2="78.35" y2="430.80" stroke="#3c3c3c" stroke-width="1.6" />
<line x1="67.95" y1="488.00" x2="78.35" y2="488.00" stroke="#3c3c3c" stroke-width="1.6" />
<line x1="121.00" y1="471.70" x2="121.00" y2="529.30" stroke="#3c3c3c" stroke-width="1.6" />
<line x1="115.80" y1="471.70" x2="126.20" y2="471.70" stroke="#3c3c3c" stroke-width="1.6" />
<line x1="115.80" y1="529.30" x2="126.20" y2="529.30" stroke="#3c3c3c" stroke-width="1.6" />
<line x1="268.60" y1="512.30" x2="268.60" y2="569.80" stroke="#3c3c3c" stroke-width="1.6" />
<line x1="263.40" y1="512.30" x2="273.80" y2="512.30" stroke="#3c3c3c" stroke-width="1.6" />
<line x1="263.40" y1="569.80" x2="273.80" y2="569.80" stroke="#3c3c3c" stroke-width="1.6" />
<line x1="281.30" y1="526.50" x2="281.30" y2="583.50" stroke="#3c3c3c" stroke-width="1.6" />
<line x1="276.10" y1="526.50" x2="286.50" y2="526.50" stroke="#3c3c3c" stroke-width="1.6" />
<line x1="276.10" y1="583.50" x2="286.50" y2="583.50" stroke="#3c3c3c" stroke-width="1.6" />
<line x1="305.00" y1="434.50" x2="305.00" y2="492.00" stroke="#3c3c3c" stroke-width="1.6" />
<line x1="299.80" y1="434.50" x2="310.20" y2="434.50" stroke="#3c3c3c" stroke-width="1.6" />
<line x1="299.80" y1="492.00" x2="310.20" y2="492.00" stroke="#3c3c3c" stroke-width="1.6" />
<line x1="327.80" y1="515.60" x2="327.80" y2="573.20" stroke="#3c3c3c" stroke-width="1.6" />
<line x1="322.60" y1="515.60" x2="333.00" y2="515.60" stroke="#3c3c3c" stroke-width="1.6" />
<line x1="322.60" y1="573.20" x2="333.00" y2="573.20" stroke="#3c3c3c" stroke-width="1.6" />
<line x1="354.60" y1="461.30" x2="354.60" y2="519.20" stroke="#3c3c3c" stroke-width="1.6" />
<line x1="349.40" y1="461.30" x2="359.80" y2="461.30" stroke="#3c3c3c" stroke-width="1.6" />
<line x1="349.40" y1="519.20" x2="359.80" y2="519.20" stroke="#3c3c3c" stroke-width="1.6" />
<line x1="358.80" y1="434.50" x2="358.80" y2="492.10" stroke="#3c3c3c" stroke-width="1.6" />
<line x1="353.60" y1="434.50" x2="364.00" y2="434.50" stroke="#3c3c3c" stroke-width="1.6" />
<line x1="353.60" y1="492.10" x2="364.00" y2="492.10" stroke="#3c3c3c" stroke-width="1.6" />
<line x1="368.70" y1="453.90" x2="368.70" y2="511.50" stroke="#3c3c3c" stroke-width="1.6" />
<line x1="363.50" y1="453.90" x2="373.90" y2="453.90" stroke="#3c3c3c" stroke-width="1.6" />
<line x1="363.50" y1="511.50" x2="373.90" y2="511.50" stroke="#3c3c3c" stroke-width="1.6" />
<line x1="379.80" y1="440.80" x2="379.80" y2="498.70" stroke="#3c3c3c" stroke-width="1.6" />
<line x1="374.60" y1="440.80" x2="385.00" y2="440.80" stroke="#3c3c3c" stroke-width="1.6" />
<line x1="374.60" y1="498.70" x2="385.00" y2="498.70" stroke="#3c3c3c" stroke-width="1.6" />
<line x1="417.10" y1="431.00" x2="417.10" y2="488.60" stroke="#3c3c3c" stroke-width="1.6" />
<line x1="411.90" y1="431.00" x2="422.30" y2="431.00" stroke="#3c3c3c" stroke-width="1.6" />
<line x1="411.90" y1="488.60" x2="422.30" y2="488.60" stroke="#3c3c3c" stroke-width="1.6" />
<line x1="465.00" y1="471.80" x2="465.00" y2="529.50" stroke="#3c3c3c" stroke-width="1.6" />
<line x1="459.80" y1="471.80" x2="470.20" y2="471.80" stroke="#3c3c3c" stroke-width="1.6" />
<line x1="459.80" y1="529.50" x2="470.20" y2="529.50" stroke="#3c3c3c" stroke-width="1.6" />
<circle cx="72.85" cy="459.50" r="3.55" fill="#ffff00" stroke="#000" stroke-width="1.2"/>
<circle cx="120.70" cy="499.80" r="3.55" fill="#ffff00" stroke="#000" stroke-width="1.2"/>
<circle cx="268.30" cy="540.20" r="3.55" fill="#ffff00" stroke="#000" stroke-width="1.2"/>
<circle cx="281.00" cy="554.90" r="3.55" fill="#ffff00" stroke="#000" stroke-width="1.2"/>
<circle cx="304.70" cy="462.70" r="3.55" fill="#ffff00" stroke="#000" stroke-width="1.2"/>
<circle cx="327.50" cy="544.00" r="3.55" fill="#ffff00" stroke="#000" stroke-width="1.2"/>
<circle cx="354.30" cy="489.80" r="3.55" fill="#ffff00" stroke="#000" stroke-width="1.2"/>
<circle cx="358.50" cy="463.00" r="3.55" fill="#ffff00" stroke="#000" stroke-width="1.2"/>
<circle cx="368.40" cy="482.30" r="3.55" fill="#ffff00" stroke="#000" stroke-width="1.2"/>
<circle cx="379.50" cy="469.50" r="3.55" fill="#ffff00" stroke="#000" stroke-width="1.2"/>
<circle cx="416.80" cy="459.50" r="3.55" fill="#ffff00" stroke="#000" stroke-width="1.2"/>
<circle cx="464.70" cy="499.80" r="3.55" fill="#ffff00" stroke="#000" stroke-width="1.2"/>
<circle cx="372.80" cy="707.00" r="3.55" fill="#0000ff" stroke="#000" stroke-width="1.2"/>
<circle cx="374.73" cy="708.80" r="3.55" fill="#0000ff" stroke="#000" stroke-width="1.2"/>
<circle cx="374.27" cy="710.60" r="3.55" fill="#0000ff" stroke="#000" stroke-width="1.2"/>
<circle cx="376.20" cy="712.40" r="3.55" fill="#0000ff" stroke="#000" stroke-width="1.2"/>
<circle cx="375.73" cy="714.20" r="3.55" fill="#0000ff" stroke="#000" stroke-width="1.2"/>
<circle cx="377.67" cy="716.00" r="3.55" fill="#0000ff" stroke="#000" stroke-width="1.2"/>
<circle cx="377.20" cy="717.80" r="3.55" fill="#0000ff" stroke="#000" stroke-width="1.2"/>
<circle cx="379.13" cy="719.60" r="3.55" fill="#0000ff" stroke="#000" stroke-width="1.2"/>
<circle cx="378.67" cy="721.40" r="3.55" fill="#0000ff" stroke="#000" stroke-width="1.2"/>
<circle cx="380.60" cy="723.20" r="3.55" fill="#0000ff" stroke="#000" stroke-width="1.2"/>
<circle cx="380.13" cy="725.00" r="3.55" fill="#0000ff" stroke="#000" stroke-width="1.2"/>
<circle cx="382.07" cy="726.80" r="3.55" fill="#0000ff" stroke="#000" stroke-width="1.2"/>
<circle cx="381.60" cy="728.60" r="3.55" fill="#0000ff" stroke="#000" stroke-width="1.2"/>
<circle cx="383.53" cy="730.40" r="3.55" fill="#0000ff" stroke="#000" stroke-width="1.2"/>
<circle cx="383.07" cy="732.20" r="3.55" fill="#0000ff" stroke="#000" stroke-width="1.2"/>
<circle cx="385.00" cy="734.00" r="3.55" fill="#0000ff" stroke="#000" stroke-width="1.2"/>
<circle cx="63.00" cy="747.40" r="3.55" fill="#0000ff" stroke="#000" stroke-width="1.2"/>
<circle cx="70.00" cy="744.70" r="3.55" fill="#0000ff" stroke="#000" stroke-width="1.2"/>
<circle cx="91.50" cy="736.30" r="3.55" fill="#0000ff" stroke="#000" stroke-width="1.2"/>
<circle cx="92.50" cy="737.30" r="3.55" fill="#0000ff" stroke="#000" stroke-width="1.2"/>
<circle cx="110.50" cy="728.00" r="3.55" fill="#0000ff" stroke="#000" stroke-width="1.2"/>
<circle cx="117.30" cy="724.50" r="3.55" fill="#0000ff" stroke="#000" stroke-width="1.2"/>
<circle cx="126.80" cy="720.30" r="3.55" fill="#0000ff" stroke="#000" stroke-width="1.2"/>
<circle cx="133.80" cy="717.00" r="3.55" fill="#0000ff" stroke="#000" stroke-width="1.2"/>
<circle cx="150.20" cy="708.50" r="3.55" fill="#0000ff" stroke="#000" stroke-width="1.2"/>
<circle cx="158.00" cy="704.00" r="3.55" fill="#0000ff" stroke="#000" stroke-width="1.2"/>
<circle cx="169.60" cy="697.00" r="3.55" fill="#0000ff" stroke="#000" stroke-width="1.2"/>
<circle cx="175.00" cy="693.40" r="3.55" fill="#0000ff" stroke="#000" stroke-width="1.2"/>
<circle cx="197.50" cy="681.00" r="3.55" fill="#0000ff" stroke="#000" stroke-width="1.2"/>
<circle cx="202.50" cy="679.80" r="3.55" fill="#0000ff" stroke="#000" stroke-width="1.2"/>
<circle cx="214.80" cy="673.50" r="3.55" fill="#0000ff" stroke="#000" stroke-width="1.2"/>
<circle cx="219.50" cy="671.00" r="3.55" fill="#0000ff" stroke="#000" stroke-width="1.2"/>
<circle cx="222.00" cy="669.20" r="3.55" fill="#0000ff" stroke="#000" stroke-width="1.2"/>
<circle cx="235.80" cy="662.80" r="3.55" fill="#0000ff" stroke="#000" stroke-width="1.2"/>
<circle cx="239.30" cy="659.50" r="3.55" fill="#0000ff" stroke="#000" stroke-width="1.2"/>
<circle cx="255.00" cy="651.60" r="3.55" fill="#0000ff" stroke="#000" stroke-width="1.2"/>
<circle cx="273.00" cy="642.00" r="3.55" fill="#0000ff" stroke="#000" stroke-width="1.2"/>
<circle cx="278.60" cy="642.40" r="3.55" fill="#0000ff" stroke="#000" stroke-width="1.2"/>
<circle cx="281.60" cy="637.40" r="3.55" fill="#0000ff" stroke="#000" stroke-width="1.2"/>
<circle cx="291.60" cy="632.40" r="3.55" fill="#0000ff" stroke="#000" stroke-width="1.2"/>
<circle cx="327.30" cy="615.70" r="3.55" fill="#0000ff" stroke="#000" stroke-width="1.2"/>
<circle cx="329.30" cy="614.30" r="3.55" fill="#0000ff" stroke="#000" stroke-width="1.2"/>
<circle cx="333.70" cy="611.70" r="3.55" fill="#0000ff" stroke="#000" stroke-width="1.2"/>
<circle cx="334.70" cy="615.30" r="3.55" fill="#0000ff" stroke="#000" stroke-width="1.2"/>
<circle cx="338.00" cy="613.30" r="3.55" fill="#0000ff" stroke="#000" stroke-width="1.2"/>
<circle cx="340.00" cy="615.30" r="3.55" fill="#0000ff" stroke="#000" stroke-width="1.2"/>
<circle cx="342.00" cy="617.30" r="3.55" fill="#0000ff" stroke="#000" stroke-width="1.2"/>
<circle cx="344.30" cy="619.30" r="3.55" fill="#0000ff" stroke="#000" stroke-width="1.2"/>
<circle cx="343.30" cy="621.30" r="3.55" fill="#0000ff" stroke="#000" stroke-width="1.2"/>
<circle cx="349.30" cy="626.70" r="3.55" fill="#0000ff" stroke="#000" stroke-width="1.2"/>
<circle cx="365.20" cy="678.30" r="3.55" fill="#0000ff" stroke="#000" stroke-width="1.2"/>
<circle cx="367.20" cy="686.80" r="3.55" fill="#0000ff" stroke="#000" stroke-width="1.2"/>
<circle cx="368.60" cy="692.20" r="3.55" fill="#0000ff" stroke="#000" stroke-width="1.2"/>
<circle cx="370.20" cy="696.30" r="3.55" fill="#0000ff" stroke="#000" stroke-width="1.2"/>
<circle cx="371.80" cy="701.70" r="3.55" fill="#0000ff" stroke="#000" stroke-width="1.2"/>
<circle cx="374.00" cy="704.50" r="3.55" fill="#0000ff" stroke="#000" stroke-width="1.2"/>
<circle cx="385.40" cy="736.20" r="3.55" fill="#0000ff" stroke="#000" stroke-width="1.2"/>
<circle cx="395.50" cy="746.70" r="3.55" fill="#0000ff" stroke="#000" stroke-width="1.2"/>
<circle cx="396.80" cy="741.90" r="3.55" fill="#0000ff" stroke="#000" stroke-width="1.2"/>
<circle cx="406.70" cy="747.50" r="3.55" fill="#0000ff" stroke="#000" stroke-width="1.2"/>
<circle cx="413.90" cy="744.50" r="3.55" fill="#0000ff" stroke="#000" stroke-width="1.2"/>
<circle cx="435.50" cy="736.30" r="3.55" fill="#0000ff" stroke="#000" stroke-width="1.2"/>
<circle cx="436.50" cy="737.30" r="3.55" fill="#0000ff" stroke="#000" stroke-width="1.2"/>
<circle cx="454.70" cy="728.00" r="3.55" fill="#0000ff" stroke="#000" stroke-width="1.2"/>
<circle cx="461.90" cy="724.50" r="3.55" fill="#0000ff" stroke="#000" stroke-width="1.2"/>
<circle cx="471.20" cy="720.50" r="3.55" fill="#0000ff" stroke="#000" stroke-width="1.2"/>
<circle cx="478.10" cy="716.80" r="3.55" fill="#0000ff" stroke="#000" stroke-width="1.2"/>
<circle cx="494.10" cy="708.00" r="3.55" fill="#0000ff" stroke="#000" stroke-width="1.2"/>
<circle cx="501.90" cy="703.50" r="3.55" fill="#0000ff" stroke="#000" stroke-width="1.2"/>
<circle cx="513.90" cy="697.30" r="3.55" fill="#0000ff" stroke="#000" stroke-width="1.2"/>
<circle cx="518.70" cy="693.30" r="3.55" fill="#0000ff" stroke="#000" stroke-width="1.2"/>
<text x="51.00" y="11.70" font-size="16.4" text-anchor="end" >60</text>
<text x="51.00" y="43.80" font-size="16.4" text-anchor="end" >40</text>
<text x="51.00" y="75.90" font-size="16.4" text-anchor="end" >20</text>
<text x="51.00" y="108.00" font-size="16.4" text-anchor="end" >0</text>
<text x="51.00" y="140.10" font-size="16.4" text-anchor="end" >-20</text>
<text x="51.00" y="172.20" font-size="16.4" text-anchor="end" >-40</text>
<text x="51.00" y="204.30" font-size="16.4" text-anchor="end" >-60</text>
<text x="51.00" y="397.10" font-size="16.4" text-anchor="end" >60</text>
<text x="51.00" y="429.22" font-size="16.4" text-anchor="end" >40</text>
<text x="51.00" y="461.33" font-size="16.4" text-anchor="end" >20</text>
<text x="51.00" y="493.45" font-size="16.4" text-anchor="end" >0</text>
<text x="51.00" y="525.57" font-size="16.4" text-anchor="end" >-20</text>
<text x="51.00" y="557.68" font-size="16.4" text-anchor="end" >-40</text>
<text x="51.00" y="589.80" font-size="16.4" text-anchor="end" >-60</text>
<text x="555.20" y="204.30" font-size="16.4" text-anchor="start" >60</text>
<text x="555.20" y="236.43" font-size="16.4" text-anchor="start" >40</text>
<text x="555.20" y="268.57" font-size="16.4" text-anchor="start" >20</text>
<text x="555.20" y="300.70" font-size="16.4" text-anchor="start" >0</text>
<text x="555.20" y="332.83" font-size="16.4" text-anchor="start" >20</text>
<text x="555.20" y="332.83" font-size="16.4" text-anchor="end" >-</text>
<text x="555.20" y="364.97" font-size="16.4" text-anchor="start" >40</text>
<text x="555.20" y="364.97" font-size="16.4" text-anchor="end" >-</text>
<text x="555.20" y="397.10" font-size="16.4" text-anchor="start" >60</text>
<text x="555.20" y="397.10" font-size="16.4" text-anchor="end" >-</text>
<text x="555.20" y="589.80" font-size="16.4" text-anchor="start" >10</text>
<text x="555.20" y="624.84" font-size="16.4" text-anchor="start" >0</text>
<text x="555.20" y="659.87" font-size="16.4" text-anchor="start" >10</text>
<text x="555.20" y="659.87" font-size="16.4" text-anchor="end" >-</text>
<text x="555.20" y="694.91" font-size="16.4" text-anchor="start" >20</text>
<text x="555.20" y="694.91" font-size="16.4" text-anchor="end" >-</text>
<text x="555.20" y="729.95" font-size="16.4" text-anchor="start" >30</text>
<text x="555.20" y="729.95" font-size="16.4" text-anchor="end" >-</text>
<text x="555.20" y="764.98" font-size="16.4" text-anchor="start" >40</text>
<text x="555.20" y="764.98" font-size="16.4" text-anchor="end" >-</text>
<text x="58.90" y="800.00" font-size="16.4" text-anchor="middle" >0.0</text>
<text x="127.77" y="800.00" font-size="16.4" text-anchor="middle" >0.2</text>
<text x="196.64" y="800.00" font-size="16.4" text-anchor="middle" >0.4</text>
<text x="265.51" y="800.00" font-size="16.4" text-anchor="middle" >0.6</text>
<text x="334.39" y="800.00" font-size="16.4" text-anchor="middle" >0.8</text>
<text x="403.26" y="800.00" font-size="16.4" text-anchor="middle" >1.0</text>
<text x="472.13" y="800.00" font-size="16.4" text-anchor="middle" >1.2</text>
<text x="541.00" y="800.00" font-size="16.4" text-anchor="middle" >1.4</text>
<text x="0" y="0" font-size="19" font-weight="normal" fill="#000" transform="translate(85.40,40.00)">O</text>
<text x="0" y="0" font-size="16.5" font-weight="normal" fill="#000" transform="translate(104.75,40.00)">I</text>
<text x="0" y="0" font-size="19" font-weight="normal" fill="#000" letter-spacing="-0.667" transform="translate(115.00,40.00)">1358</text>
<text x="0" y="0" font-size="19" font-weight="normal" fill="#000" transform="translate(156.00,40.00)">R</text>
<text x="0" y="0" font-size="19" font-weight="normal" fill="#000" transform="translate(169.00,40.00)">V</text>
<text x="0" y="0" font-size="19" font-weight="normal" fill="#000" letter-spacing="-0.700" transform="translate(92.00,60.90)">minus</text>
<text x="0" y="0" font-size="19" font-weight="normal" fill="#000" letter-spacing="0.767" transform="translate(140.70,60.90)">phot</text>
<text x="0" y="0" font-size="19" font-weight="normal" fill="#000" letter-spacing="0.200" transform="translate(80.00,232.90)">Si</text>
<text x="0" y="0" font-size="17" font-weight="normal" fill="#000" letter-spacing="-1.600" transform="translate(99.60,232.90)">IV</text>
<text x="0" y="0" font-size="19" font-weight="normal" fill="#000" letter-spacing="-0.867" transform="translate(121.80,232.90)">1393</text>
<text x="0" y="0" font-size="19" font-weight="normal" fill="#000" transform="translate(162.30,232.90)">R</text>
<text x="0" y="0" font-size="19" font-weight="normal" fill="#000" transform="translate(175.00,232.90)">V</text>
<text x="0" y="0" font-size="19" font-weight="normal" fill="#000" letter-spacing="-0.750" transform="translate(92.00,253.80)">minus</text>
<text x="0" y="0" font-size="19" font-weight="normal" fill="#000" letter-spacing="0.767" transform="translate(140.70,253.80)">phot</text>
<text x="0" y="0" font-size="19" font-weight="normal" fill="#000" transform="translate(81.35,421.50)">N</text>
<text x="0" y="0" font-size="16.3" font-weight="normal" fill="#000" transform="translate(99.00,421.50)">V</text>
<text x="0" y="0" font-size="19" font-weight="normal" fill="#000" letter-spacing="-0.733" transform="translate(116.50,421.50)">1238</text>
<text x="0" y="0" font-size="19" font-weight="normal" fill="#000" transform="translate(156.95,421.50)">R</text>
<text x="0" y="0" font-size="19" font-weight="normal" fill="#000" transform="translate(169.85,421.50)">V</text>
<text x="0" y="0" font-size="19" font-weight="normal" fill="#000" letter-spacing="-0.750" transform="translate(90.00,442.80)">minus</text>
<text x="0" y="0" font-size="19" font-weight="normal" fill="#000" letter-spacing="0.833" transform="translate(138.50,442.80)">phot</text>
<text x="0" y="0" font-size="19" font-weight="normal" fill="#000" letter-spacing="0.145" transform="translate(85.40,616.00)">Photospheric</text>
<text x="0" y="0" font-size="19" font-weight="normal" fill="#000" letter-spacing="-0.520" transform="translate(78.60,637.00)">Radial</text>
<text x="0" y="0" font-size="19" font-weight="normal" fill="#000" letter-spacing="0.229" transform="translate(127.40,637.00)">Velocity</text>
<text x="0" y="0" font-size="19" font-weight="normal" fill="#000" letter-spacing="-0.475" transform="translate(91.40,657.60)">(Kiss</text>
<text x="0" y="0" font-size="19" font-weight="normal" fill="#000" letter-spacing="0.075" transform="translate(134.30,657.60)">1998)</text>
<text x="0" y="0" font-size="19.5" font-weight="normal" fill="#000" letter-spacing="-0.175" transform="translate(277.50,826.00)">Phase</text>
<text x="0" y="0" font-size="19" font-weight="normal" fill="#000" transform="translate(20.00,146.95) rotate(-90)">R</text>
<text x="0" y="0" font-size="19" font-weight="normal" fill="#000" transform="translate(20.00,134.30) rotate(-90)">V</text>
<text x="0" y="0" font-size="19" font-weight="normal" fill="#000" letter-spacing="0.250" transform="translate(20.00,117.00) rotate(-90)">(km</text>
<text x="0" y="0" font-size="19" font-weight="normal" fill="#000" transform="translate(20.00,81.90) rotate(-90)">s</text>
<text x="0" y="0" font-size="12.5" font-weight="normal" fill="#000" transform="translate(9.20,74.15) rotate(-90)">-</text>
<text x="0" y="0" font-size="12.5" font-weight="normal" fill="#000" transform="translate(9.20,69.55) rotate(-90)">1</text>
<text x="0" y="0" font-size="19" font-weight="normal" fill="#000" transform="translate(20.00,63.90) rotate(-90)">)</text>
<text x="0" y="0" font-size="19" font-weight="normal" fill="#000" transform="translate(593.60,339.95) rotate(-90)">R</text>
<text x="0" y="0" font-size="19" font-weight="normal" fill="#000" transform="translate(593.60,327.30) rotate(-90)">V</text>
<text x="0" y="0" font-size="19" font-weight="normal" fill="#000" letter-spacing="0.250" transform="translate(593.60,310.00) rotate(-90)">(km</text>
<text x="0" y="0" font-size="19" font-weight="normal" fill="#000" transform="translate(593.60,274.90) rotate(-90)">s</text>
<text x="0" y="0" font-size="12.5" font-weight="normal" fill="#000" transform="translate(582.80,267.15) rotate(-90)">-</text>
<text x="0" y="0" font-size="12.5" font-weight="normal" fill="#000" transform="translate(582.80,262.55) rotate(-90)">1</text>
<text x="0" y="0" font-size="19" font-weight="normal" fill="#000" transform="translate(593.60,256.90) rotate(-90)">)</text>
<text x="0" y="0" font-size="19" font-weight="normal" fill="#000" transform="translate(20.00,531.95) rotate(-90)">R</text>
<text x="0" y="0" font-size="19" font-weight="normal" fill="#000" transform="translate(20.00,519.30) rotate(-90)">V</text>
<text x="0" y="0" font-size="19" font-weight="normal" fill="#000" letter-spacing="0.250" transform="translate(20.00,502.00) rotate(-90)">(km</text>
<text x="0" y="0" font-size="19" font-weight="normal" fill="#000" transform="translate(20.00,466.90) rotate(-90)">s</text>
<text x="0" y="0" font-size="12.5" font-weight="normal" fill="#000" transform="translate(9.20,459.15) rotate(-90)">-</text>
<text x="0" y="0" font-size="12.5" font-weight="normal" fill="#000" transform="translate(9.20,454.55) rotate(-90)">1</text>
<text x="0" y="0" font-size="19" font-weight="normal" fill="#000" transform="translate(20.00,448.90) rotate(-90)">)</text>
<text x="0" y="0" font-size="19" font-weight="normal" fill="#000" transform="translate(593.60,725.95) rotate(-90)">R</text>
<text x="0" y="0" font-size="19" font-weight="normal" fill="#000" transform="translate(593.60,713.30) rotate(-90)">V</text>
<text x="0" y="0" font-size="19" font-weight="normal" fill="#000" letter-spacing="0.250" transform="translate(593.60,696.00) rotate(-90)">(km</text>
<text x="0" y="0" font-size="19" font-weight="normal" fill="#000" transform="translate(593.60,660.90) rotate(-90)">s</text>
<text x="0" y="0" font-size="12.5" font-weight="normal" fill="#000" transform="translate(582.80,653.15) rotate(-90)">-</text>
<text x="0" y="0" font-size="12.5" font-weight="normal" fill="#000" transform="translate(582.80,648.55) rotate(-90)">1</text>
<text x="0" y="0" font-size="19" font-weight="normal" fill="#000" transform="translate(593.60,642.90) rotate(-90)">)</text>
<text x="0" y="0" font-size="15.5" font-weight="normal" fill="#d41818" stroke="#d41818" stroke-width="0.55" transform="translate(294.40,92.30)">(</text>
<text x="0" y="0" font-size="15.5" font-weight="normal" fill="#d41818" stroke="#d41818" stroke-width="0.55" transform="translate(310.75,92.30)">)</text>
<text x="0" y="0" font-size="15.5" font-weight="normal" fill="#d41818" stroke="#d41818" stroke-width="0.55" transform="translate(294.40,275.20)">(</text>
<text x="0" y="0" font-size="15.5" font-weight="normal" fill="#d41818" stroke="#d41818" stroke-width="0.55" transform="translate(310.75,275.20)">)</text>
<text x="0" y="0" font-size="15.5" font-weight="normal" fill="#d41818" stroke="#d41818" stroke-width="0.55" transform="translate(294.40,466.30)">(</text>
<text x="0" y="0" font-size="15.5" font-weight="normal" fill="#d41818" stroke="#d41818" stroke-width="0.55" transform="translate(310.75,466.30)">)</text>
</svg>
</body></html>
